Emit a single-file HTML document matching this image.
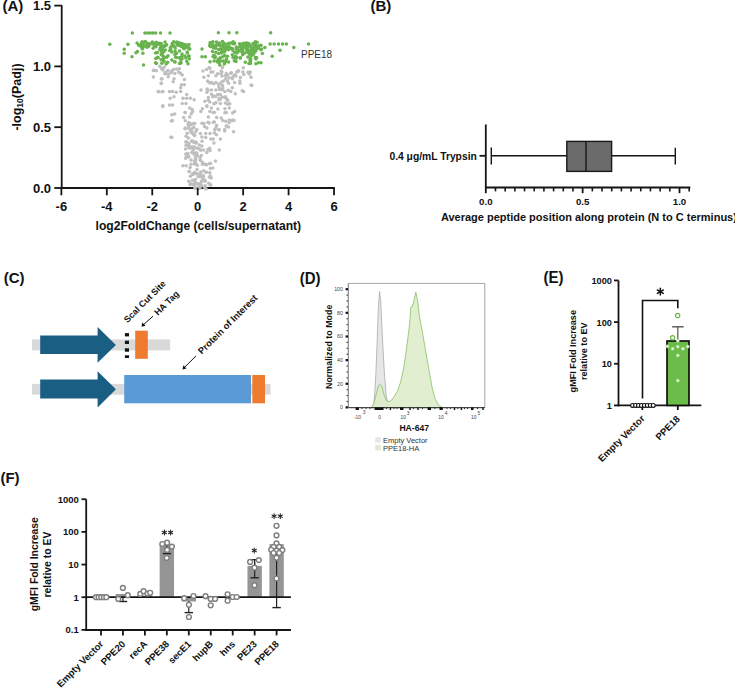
<!DOCTYPE html>
<html><head><meta charset="utf-8"><style>
html,body{margin:0;padding:0;background:#fff;}
svg{display:block;font-family:"Liberation Sans",sans-serif;}
</style></head><body>
<svg width="735" height="689" viewBox="0 0 735 689">
<rect width="735" height="689" fill="#fff"/>
<text x="2.50" y="11.00" font-size="15" font-weight="bold" text-anchor="start" fill="#111" >(A)</text>
<line x1="61.70" y1="5.20" x2="61.70" y2="188.80" stroke="#151515" stroke-width="1.8" />
<line x1="60.80" y1="188.00" x2="334.80" y2="188.00" stroke="#151515" stroke-width="1.8" />
<circle cx="154.50" cy="70.20" r="1.75" fill="#bfbfbf" stroke="none" stroke-width="0" />
<circle cx="159.70" cy="66.30" r="1.75" fill="#bfbfbf" stroke="none" stroke-width="0" />
<circle cx="164.20" cy="67.20" r="1.75" fill="#bfbfbf" stroke="none" stroke-width="0" />
<circle cx="168.00" cy="70.50" r="1.75" fill="#bfbfbf" stroke="none" stroke-width="0" />
<circle cx="171.00" cy="72.70" r="1.75" fill="#bfbfbf" stroke="none" stroke-width="0" />
<circle cx="174.70" cy="73.50" r="1.75" fill="#bfbfbf" stroke="none" stroke-width="0" />
<circle cx="178.40" cy="72.00" r="1.75" fill="#bfbfbf" stroke="none" stroke-width="0" />
<circle cx="182.20" cy="75.00" r="1.75" fill="#bfbfbf" stroke="none" stroke-width="0" />
<circle cx="174.00" cy="78.70" r="1.75" fill="#bfbfbf" stroke="none" stroke-width="0" />
<circle cx="173.20" cy="81.70" r="1.75" fill="#bfbfbf" stroke="none" stroke-width="0" />
<circle cx="162.00" cy="78.70" r="1.75" fill="#bfbfbf" stroke="none" stroke-width="0" />
<circle cx="161.20" cy="83.20" r="1.75" fill="#bfbfbf" stroke="none" stroke-width="0" />
<circle cx="184.40" cy="79.50" r="1.75" fill="#bfbfbf" stroke="none" stroke-width="0" />
<circle cx="181.40" cy="84.70" r="1.75" fill="#bfbfbf" stroke="none" stroke-width="0" />
<circle cx="184.40" cy="84.70" r="1.75" fill="#bfbfbf" stroke="none" stroke-width="0" />
<circle cx="180.70" cy="87.70" r="1.75" fill="#bfbfbf" stroke="none" stroke-width="0" />
<circle cx="158.20" cy="91.70" r="1.75" fill="#bfbfbf" stroke="none" stroke-width="0" />
<circle cx="162.00" cy="91.70" r="1.75" fill="#bfbfbf" stroke="none" stroke-width="0" />
<circle cx="169.50" cy="91.40" r="1.75" fill="#bfbfbf" stroke="none" stroke-width="0" />
<circle cx="172.50" cy="91.40" r="1.75" fill="#bfbfbf" stroke="none" stroke-width="0" />
<circle cx="176.20" cy="92.20" r="1.75" fill="#bfbfbf" stroke="none" stroke-width="0" />
<circle cx="180.70" cy="91.40" r="1.75" fill="#bfbfbf" stroke="none" stroke-width="0" />
<circle cx="186.70" cy="94.40" r="1.75" fill="#bfbfbf" stroke="none" stroke-width="0" />
<circle cx="170.20" cy="98.20" r="1.75" fill="#bfbfbf" stroke="none" stroke-width="0" />
<circle cx="174.00" cy="96.70" r="1.75" fill="#bfbfbf" stroke="none" stroke-width="0" />
<circle cx="183.00" cy="98.20" r="1.75" fill="#bfbfbf" stroke="none" stroke-width="0" />
<circle cx="186.70" cy="98.20" r="1.75" fill="#bfbfbf" stroke="none" stroke-width="0" />
<circle cx="190.40" cy="98.20" r="1.75" fill="#bfbfbf" stroke="none" stroke-width="0" />
<circle cx="194.20" cy="99.70" r="1.75" fill="#bfbfbf" stroke="none" stroke-width="0" />
<circle cx="162.70" cy="106.40" r="1.75" fill="#bfbfbf" stroke="none" stroke-width="0" />
<circle cx="169.50" cy="104.90" r="1.75" fill="#bfbfbf" stroke="none" stroke-width="0" />
<circle cx="172.50" cy="104.90" r="1.75" fill="#bfbfbf" stroke="none" stroke-width="0" />
<circle cx="182.20" cy="103.40" r="1.75" fill="#bfbfbf" stroke="none" stroke-width="0" />
<circle cx="186.00" cy="103.40" r="1.75" fill="#bfbfbf" stroke="none" stroke-width="0" />
<circle cx="189.70" cy="107.90" r="1.75" fill="#bfbfbf" stroke="none" stroke-width="0" />
<circle cx="185.20" cy="112.40" r="1.75" fill="#bfbfbf" stroke="none" stroke-width="0" />
<circle cx="192.70" cy="111.60" r="1.75" fill="#bfbfbf" stroke="none" stroke-width="0" />
<circle cx="174.70" cy="113.90" r="1.75" fill="#bfbfbf" stroke="none" stroke-width="0" />
<circle cx="172.50" cy="120.60" r="1.75" fill="#bfbfbf" stroke="none" stroke-width="0" />
<circle cx="183.70" cy="117.60" r="1.75" fill="#bfbfbf" stroke="none" stroke-width="0" />
<circle cx="189.70" cy="116.90" r="1.75" fill="#bfbfbf" stroke="none" stroke-width="0" />
<circle cx="185.20" cy="128.10" r="1.75" fill="#bfbfbf" stroke="none" stroke-width="0" />
<circle cx="191.20" cy="124.40" r="1.75" fill="#bfbfbf" stroke="none" stroke-width="0" />
<circle cx="203.90" cy="77.20" r="1.75" fill="#bfbfbf" stroke="none" stroke-width="0" />
<circle cx="208.40" cy="75.70" r="1.75" fill="#bfbfbf" stroke="none" stroke-width="0" />
<circle cx="212.90" cy="72.00" r="1.75" fill="#bfbfbf" stroke="none" stroke-width="0" />
<circle cx="215.90" cy="75.70" r="1.75" fill="#bfbfbf" stroke="none" stroke-width="0" />
<circle cx="221.90" cy="72.00" r="1.75" fill="#bfbfbf" stroke="none" stroke-width="0" />
<circle cx="226.30" cy="73.50" r="1.75" fill="#bfbfbf" stroke="none" stroke-width="0" />
<circle cx="233.80" cy="75.70" r="1.75" fill="#bfbfbf" stroke="none" stroke-width="0" />
<circle cx="236.80" cy="72.00" r="1.75" fill="#bfbfbf" stroke="none" stroke-width="0" />
<circle cx="242.80" cy="72.00" r="1.75" fill="#bfbfbf" stroke="none" stroke-width="0" />
<circle cx="250.30" cy="72.00" r="1.75" fill="#bfbfbf" stroke="none" stroke-width="0" />
<circle cx="207.60" cy="81.00" r="1.75" fill="#bfbfbf" stroke="none" stroke-width="0" />
<circle cx="211.40" cy="82.50" r="1.75" fill="#bfbfbf" stroke="none" stroke-width="0" />
<circle cx="215.90" cy="82.50" r="1.75" fill="#bfbfbf" stroke="none" stroke-width="0" />
<circle cx="223.40" cy="81.00" r="1.75" fill="#bfbfbf" stroke="none" stroke-width="0" />
<circle cx="228.60" cy="83.20" r="1.75" fill="#bfbfbf" stroke="none" stroke-width="0" />
<circle cx="234.60" cy="82.50" r="1.75" fill="#bfbfbf" stroke="none" stroke-width="0" />
<circle cx="239.80" cy="81.00" r="1.75" fill="#bfbfbf" stroke="none" stroke-width="0" />
<circle cx="218.90" cy="87.00" r="1.75" fill="#bfbfbf" stroke="none" stroke-width="0" />
<circle cx="222.60" cy="85.40" r="1.75" fill="#bfbfbf" stroke="none" stroke-width="0" />
<circle cx="232.30" cy="87.70" r="1.75" fill="#bfbfbf" stroke="none" stroke-width="0" />
<circle cx="251.80" cy="85.40" r="1.75" fill="#bfbfbf" stroke="none" stroke-width="0" />
<circle cx="206.90" cy="92.20" r="1.75" fill="#bfbfbf" stroke="none" stroke-width="0" />
<circle cx="211.40" cy="90.00" r="1.75" fill="#bfbfbf" stroke="none" stroke-width="0" />
<circle cx="215.90" cy="90.00" r="1.75" fill="#bfbfbf" stroke="none" stroke-width="0" />
<circle cx="220.40" cy="94.40" r="1.75" fill="#bfbfbf" stroke="none" stroke-width="0" />
<circle cx="224.90" cy="91.40" r="1.75" fill="#bfbfbf" stroke="none" stroke-width="0" />
<circle cx="230.80" cy="91.40" r="1.75" fill="#bfbfbf" stroke="none" stroke-width="0" />
<circle cx="235.30" cy="93.70" r="1.75" fill="#bfbfbf" stroke="none" stroke-width="0" />
<circle cx="243.60" cy="91.40" r="1.75" fill="#bfbfbf" stroke="none" stroke-width="0" />
<circle cx="208.40" cy="97.40" r="1.75" fill="#bfbfbf" stroke="none" stroke-width="0" />
<circle cx="212.90" cy="96.70" r="1.75" fill="#bfbfbf" stroke="none" stroke-width="0" />
<circle cx="218.90" cy="99.70" r="1.75" fill="#bfbfbf" stroke="none" stroke-width="0" />
<circle cx="224.90" cy="97.40" r="1.75" fill="#bfbfbf" stroke="none" stroke-width="0" />
<circle cx="227.80" cy="100.40" r="1.75" fill="#bfbfbf" stroke="none" stroke-width="0" />
<circle cx="209.90" cy="101.90" r="1.75" fill="#bfbfbf" stroke="none" stroke-width="0" />
<circle cx="214.40" cy="103.40" r="1.75" fill="#bfbfbf" stroke="none" stroke-width="0" />
<circle cx="220.40" cy="103.40" r="1.75" fill="#bfbfbf" stroke="none" stroke-width="0" />
<circle cx="227.80" cy="104.20" r="1.75" fill="#bfbfbf" stroke="none" stroke-width="0" />
<circle cx="202.40" cy="108.70" r="1.75" fill="#bfbfbf" stroke="none" stroke-width="0" />
<circle cx="206.90" cy="106.40" r="1.75" fill="#bfbfbf" stroke="none" stroke-width="0" />
<circle cx="211.40" cy="107.90" r="1.75" fill="#bfbfbf" stroke="none" stroke-width="0" />
<circle cx="224.90" cy="108.70" r="1.75" fill="#bfbfbf" stroke="none" stroke-width="0" />
<circle cx="229.30" cy="107.90" r="1.75" fill="#bfbfbf" stroke="none" stroke-width="0" />
<circle cx="200.90" cy="111.60" r="1.75" fill="#bfbfbf" stroke="none" stroke-width="0" />
<circle cx="209.90" cy="111.60" r="1.75" fill="#bfbfbf" stroke="none" stroke-width="0" />
<circle cx="214.40" cy="112.40" r="1.75" fill="#bfbfbf" stroke="none" stroke-width="0" />
<circle cx="226.30" cy="112.40" r="1.75" fill="#bfbfbf" stroke="none" stroke-width="0" />
<circle cx="234.60" cy="111.60" r="1.75" fill="#bfbfbf" stroke="none" stroke-width="0" />
<circle cx="208.40" cy="116.90" r="1.75" fill="#bfbfbf" stroke="none" stroke-width="0" />
<circle cx="216.60" cy="117.60" r="1.75" fill="#bfbfbf" stroke="none" stroke-width="0" />
<circle cx="229.30" cy="119.90" r="1.75" fill="#bfbfbf" stroke="none" stroke-width="0" />
<circle cx="233.10" cy="119.90" r="1.75" fill="#bfbfbf" stroke="none" stroke-width="0" />
<circle cx="203.90" cy="123.60" r="1.75" fill="#bfbfbf" stroke="none" stroke-width="0" />
<circle cx="209.10" cy="122.90" r="1.75" fill="#bfbfbf" stroke="none" stroke-width="0" />
<circle cx="214.40" cy="122.10" r="1.75" fill="#bfbfbf" stroke="none" stroke-width="0" />
<circle cx="226.30" cy="125.90" r="1.75" fill="#bfbfbf" stroke="none" stroke-width="0" />
<circle cx="206.90" cy="128.10" r="1.75" fill="#bfbfbf" stroke="none" stroke-width="0" />
<circle cx="215.90" cy="128.10" r="1.75" fill="#bfbfbf" stroke="none" stroke-width="0" />
<circle cx="171.40" cy="121.10" r="1.75" fill="#bfbfbf" stroke="none" stroke-width="0" />
<circle cx="185.00" cy="128.70" r="1.75" fill="#bfbfbf" stroke="none" stroke-width="0" />
<circle cx="170.90" cy="137.20" r="1.75" fill="#bfbfbf" stroke="none" stroke-width="0" />
<circle cx="186.10" cy="136.30" r="1.75" fill="#bfbfbf" stroke="none" stroke-width="0" />
<circle cx="186.70" cy="141.80" r="1.75" fill="#bfbfbf" stroke="none" stroke-width="0" />
<circle cx="188.30" cy="145.60" r="1.75" fill="#bfbfbf" stroke="none" stroke-width="0" />
<circle cx="195.90" cy="142.90" r="1.75" fill="#bfbfbf" stroke="none" stroke-width="0" />
<circle cx="199.20" cy="145.00" r="1.75" fill="#bfbfbf" stroke="none" stroke-width="0" />
<circle cx="201.90" cy="146.10" r="1.75" fill="#bfbfbf" stroke="none" stroke-width="0" />
<circle cx="197.00" cy="148.30" r="1.75" fill="#bfbfbf" stroke="none" stroke-width="0" />
<circle cx="195.40" cy="154.30" r="1.75" fill="#bfbfbf" stroke="none" stroke-width="0" />
<circle cx="188.80" cy="157.00" r="1.75" fill="#bfbfbf" stroke="none" stroke-width="0" />
<circle cx="201.30" cy="155.40" r="1.75" fill="#bfbfbf" stroke="none" stroke-width="0" />
<circle cx="203.50" cy="149.90" r="1.75" fill="#bfbfbf" stroke="none" stroke-width="0" />
<circle cx="207.90" cy="149.40" r="1.75" fill="#bfbfbf" stroke="none" stroke-width="0" />
<circle cx="210.00" cy="150.50" r="1.75" fill="#bfbfbf" stroke="none" stroke-width="0" />
<circle cx="206.80" cy="152.60" r="1.75" fill="#bfbfbf" stroke="none" stroke-width="0" />
<circle cx="219.30" cy="149.90" r="1.75" fill="#bfbfbf" stroke="none" stroke-width="0" />
<circle cx="182.90" cy="165.70" r="1.75" fill="#bfbfbf" stroke="none" stroke-width="0" />
<circle cx="186.10" cy="165.70" r="1.75" fill="#bfbfbf" stroke="none" stroke-width="0" />
<circle cx="194.30" cy="161.10" r="1.75" fill="#bfbfbf" stroke="none" stroke-width="0" />
<circle cx="200.30" cy="160.30" r="1.75" fill="#bfbfbf" stroke="none" stroke-width="0" />
<circle cx="202.40" cy="162.40" r="1.75" fill="#bfbfbf" stroke="none" stroke-width="0" />
<circle cx="215.50" cy="161.10" r="1.75" fill="#bfbfbf" stroke="none" stroke-width="0" />
<circle cx="209.50" cy="163.50" r="1.75" fill="#bfbfbf" stroke="none" stroke-width="0" />
<circle cx="212.80" cy="167.90" r="1.75" fill="#bfbfbf" stroke="none" stroke-width="0" />
<circle cx="201.90" cy="123.30" r="1.75" fill="#bfbfbf" stroke="none" stroke-width="0" />
<circle cx="204.60" cy="126.50" r="1.75" fill="#bfbfbf" stroke="none" stroke-width="0" />
<circle cx="207.90" cy="122.20" r="1.75" fill="#bfbfbf" stroke="none" stroke-width="0" />
<circle cx="213.30" cy="122.20" r="1.75" fill="#bfbfbf" stroke="none" stroke-width="0" />
<circle cx="216.60" cy="125.40" r="1.75" fill="#bfbfbf" stroke="none" stroke-width="0" />
<circle cx="218.80" cy="129.80" r="1.75" fill="#bfbfbf" stroke="none" stroke-width="0" />
<circle cx="214.40" cy="133.00" r="1.75" fill="#bfbfbf" stroke="none" stroke-width="0" />
<circle cx="210.00" cy="133.60" r="1.75" fill="#bfbfbf" stroke="none" stroke-width="0" />
<circle cx="205.70" cy="133.60" r="1.75" fill="#bfbfbf" stroke="none" stroke-width="0" />
<circle cx="200.30" cy="133.60" r="1.75" fill="#bfbfbf" stroke="none" stroke-width="0" />
<circle cx="201.90" cy="136.90" r="1.75" fill="#bfbfbf" stroke="none" stroke-width="0" />
<circle cx="205.70" cy="137.40" r="1.75" fill="#bfbfbf" stroke="none" stroke-width="0" />
<circle cx="213.30" cy="139.00" r="1.75" fill="#bfbfbf" stroke="none" stroke-width="0" />
<circle cx="220.40" cy="139.00" r="1.75" fill="#bfbfbf" stroke="none" stroke-width="0" />
<circle cx="213.90" cy="142.90" r="1.75" fill="#bfbfbf" stroke="none" stroke-width="0" />
<circle cx="224.70" cy="130.90" r="1.75" fill="#bfbfbf" stroke="none" stroke-width="0" />
<circle cx="226.40" cy="126.00" r="1.75" fill="#bfbfbf" stroke="none" stroke-width="0" />
<circle cx="229.10" cy="122.70" r="1.75" fill="#bfbfbf" stroke="none" stroke-width="0" />
<circle cx="234.00" cy="120.50" r="1.75" fill="#bfbfbf" stroke="none" stroke-width="0" />
<circle cx="161.40" cy="78.90" r="1.75" fill="#bfbfbf" stroke="none" stroke-width="0" />
<circle cx="161.40" cy="83.40" r="1.75" fill="#bfbfbf" stroke="none" stroke-width="0" />
<circle cx="158.40" cy="91.40" r="1.75" fill="#bfbfbf" stroke="none" stroke-width="0" />
<circle cx="162.90" cy="91.40" r="1.75" fill="#bfbfbf" stroke="none" stroke-width="0" />
<circle cx="162.90" cy="105.80" r="1.75" fill="#bfbfbf" stroke="none" stroke-width="0" />
<circle cx="171.80" cy="114.80" r="1.75" fill="#bfbfbf" stroke="none" stroke-width="0" />
<circle cx="251.00" cy="84.90" r="1.75" fill="#bfbfbf" stroke="none" stroke-width="0" />
<circle cx="242.20" cy="90.80" r="1.75" fill="#bfbfbf" stroke="none" stroke-width="0" />
<circle cx="231.70" cy="120.80" r="1.75" fill="#bfbfbf" stroke="none" stroke-width="0" />
<circle cx="171.80" cy="137.20" r="1.75" fill="#bfbfbf" stroke="none" stroke-width="0" />
<circle cx="193.83" cy="127.48" r="1.75" fill="#bfbfbf" stroke="none" stroke-width="0" />
<circle cx="193.53" cy="123.64" r="1.75" fill="#bfbfbf" stroke="none" stroke-width="0" />
<circle cx="190.82" cy="130.91" r="1.75" fill="#bfbfbf" stroke="none" stroke-width="0" />
<circle cx="188.12" cy="124.61" r="1.75" fill="#bfbfbf" stroke="none" stroke-width="0" />
<circle cx="192.78" cy="133.85" r="1.75" fill="#bfbfbf" stroke="none" stroke-width="0" />
<circle cx="194.78" cy="123.50" r="1.75" fill="#bfbfbf" stroke="none" stroke-width="0" />
<circle cx="191.54" cy="131.86" r="1.75" fill="#bfbfbf" stroke="none" stroke-width="0" />
<circle cx="191.52" cy="130.91" r="1.75" fill="#bfbfbf" stroke="none" stroke-width="0" />
<circle cx="189.32" cy="122.92" r="1.75" fill="#bfbfbf" stroke="none" stroke-width="0" />
<circle cx="188.74" cy="122.49" r="1.75" fill="#bfbfbf" stroke="none" stroke-width="0" />
<circle cx="191.86" cy="128.69" r="1.75" fill="#bfbfbf" stroke="none" stroke-width="0" />
<circle cx="191.98" cy="123.91" r="1.75" fill="#bfbfbf" stroke="none" stroke-width="0" />
<circle cx="189.29" cy="124.65" r="1.75" fill="#bfbfbf" stroke="none" stroke-width="0" />
<circle cx="193.88" cy="134.87" r="1.75" fill="#bfbfbf" stroke="none" stroke-width="0" />
<circle cx="196.27" cy="142.43" r="1.75" fill="#bfbfbf" stroke="none" stroke-width="0" />
<circle cx="187.62" cy="155.27" r="1.75" fill="#bfbfbf" stroke="none" stroke-width="0" />
<circle cx="191.62" cy="152.47" r="1.75" fill="#bfbfbf" stroke="none" stroke-width="0" />
<circle cx="190.27" cy="148.00" r="1.75" fill="#bfbfbf" stroke="none" stroke-width="0" />
<circle cx="192.15" cy="147.45" r="1.75" fill="#bfbfbf" stroke="none" stroke-width="0" />
<circle cx="193.01" cy="141.20" r="1.75" fill="#bfbfbf" stroke="none" stroke-width="0" />
<circle cx="194.01" cy="153.66" r="1.75" fill="#bfbfbf" stroke="none" stroke-width="0" />
<circle cx="188.81" cy="147.81" r="1.75" fill="#bfbfbf" stroke="none" stroke-width="0" />
<circle cx="194.39" cy="147.08" r="1.75" fill="#bfbfbf" stroke="none" stroke-width="0" />
<circle cx="188.95" cy="143.48" r="1.75" fill="#bfbfbf" stroke="none" stroke-width="0" />
<circle cx="192.13" cy="141.23" r="1.75" fill="#bfbfbf" stroke="none" stroke-width="0" />
<circle cx="195.93" cy="153.03" r="1.75" fill="#bfbfbf" stroke="none" stroke-width="0" />
<circle cx="194.05" cy="153.91" r="1.75" fill="#bfbfbf" stroke="none" stroke-width="0" />
<circle cx="193.29" cy="147.07" r="1.75" fill="#bfbfbf" stroke="none" stroke-width="0" />
<circle cx="193.00" cy="148.56" r="1.75" fill="#bfbfbf" stroke="none" stroke-width="0" />
<circle cx="196.83" cy="153.07" r="1.75" fill="#bfbfbf" stroke="none" stroke-width="0" />
<circle cx="194.68" cy="183.96" r="1.75" fill="#bfbfbf" stroke="none" stroke-width="0" />
<circle cx="205.38" cy="180.89" r="1.75" fill="#bfbfbf" stroke="none" stroke-width="0" />
<circle cx="206.92" cy="172.33" r="1.75" fill="#bfbfbf" stroke="none" stroke-width="0" />
<circle cx="208.72" cy="183.24" r="1.75" fill="#bfbfbf" stroke="none" stroke-width="0" />
<circle cx="204.29" cy="180.65" r="1.75" fill="#bfbfbf" stroke="none" stroke-width="0" />
<circle cx="205.84" cy="172.33" r="1.75" fill="#bfbfbf" stroke="none" stroke-width="0" />
<circle cx="204.90" cy="164.62" r="1.75" fill="#bfbfbf" stroke="none" stroke-width="0" />
<circle cx="196.52" cy="173.78" r="1.75" fill="#bfbfbf" stroke="none" stroke-width="0" />
<circle cx="189.23" cy="171.18" r="1.75" fill="#bfbfbf" stroke="none" stroke-width="0" />
<circle cx="203.05" cy="177.35" r="1.75" fill="#bfbfbf" stroke="none" stroke-width="0" />
<circle cx="194.11" cy="184.73" r="1.75" fill="#bfbfbf" stroke="none" stroke-width="0" />
<circle cx="203.65" cy="170.77" r="1.75" fill="#bfbfbf" stroke="none" stroke-width="0" />
<circle cx="203.51" cy="176.10" r="1.75" fill="#bfbfbf" stroke="none" stroke-width="0" />
<circle cx="200.73" cy="171.96" r="1.75" fill="#bfbfbf" stroke="none" stroke-width="0" />
<circle cx="211.00" cy="177.77" r="1.75" fill="#bfbfbf" stroke="none" stroke-width="0" />
<circle cx="204.43" cy="180.52" r="1.75" fill="#bfbfbf" stroke="none" stroke-width="0" />
<circle cx="210.56" cy="163.52" r="1.75" fill="#bfbfbf" stroke="none" stroke-width="0" />
<circle cx="202.54" cy="179.99" r="1.75" fill="#bfbfbf" stroke="none" stroke-width="0" />
<circle cx="194.65" cy="172.24" r="1.75" fill="#bfbfbf" stroke="none" stroke-width="0" />
<circle cx="190.11" cy="167.50" r="1.75" fill="#bfbfbf" stroke="none" stroke-width="0" />
<circle cx="197.26" cy="165.26" r="1.75" fill="#bfbfbf" stroke="none" stroke-width="0" />
<circle cx="194.52" cy="183.83" r="1.75" fill="#bfbfbf" stroke="none" stroke-width="0" />
<circle cx="201.10" cy="174.68" r="1.75" fill="#bfbfbf" stroke="none" stroke-width="0" />
<circle cx="210.28" cy="176.06" r="1.75" fill="#bfbfbf" stroke="none" stroke-width="0" />
<circle cx="210.89" cy="177.67" r="1.75" fill="#bfbfbf" stroke="none" stroke-width="0" />
<circle cx="206.81" cy="164.75" r="1.75" fill="#bfbfbf" stroke="none" stroke-width="0" />
<circle cx="202.15" cy="180.46" r="1.75" fill="#bfbfbf" stroke="none" stroke-width="0" />
<circle cx="189.99" cy="184.39" r="1.75" fill="#bfbfbf" stroke="none" stroke-width="0" />
<circle cx="192.52" cy="173.85" r="1.75" fill="#bfbfbf" stroke="none" stroke-width="0" />
<circle cx="192.72" cy="174.40" r="1.75" fill="#bfbfbf" stroke="none" stroke-width="0" />
<circle cx="202.45" cy="164.35" r="1.75" fill="#bfbfbf" stroke="none" stroke-width="0" />
<circle cx="209.80" cy="172.68" r="1.75" fill="#bfbfbf" stroke="none" stroke-width="0" />
<circle cx="200.59" cy="176.75" r="1.75" fill="#bfbfbf" stroke="none" stroke-width="0" />
<circle cx="197.04" cy="169.57" r="1.75" fill="#bfbfbf" stroke="none" stroke-width="0" />
<circle cx="203.41" cy="175.89" r="1.75" fill="#bfbfbf" stroke="none" stroke-width="0" />
<circle cx="195.24" cy="179.48" r="1.75" fill="#bfbfbf" stroke="none" stroke-width="0" />
<circle cx="195.51" cy="163.32" r="1.75" fill="#bfbfbf" stroke="none" stroke-width="0" />
<circle cx="194.39" cy="163.98" r="1.75" fill="#bfbfbf" stroke="none" stroke-width="0" />
<circle cx="192.44" cy="180.36" r="1.75" fill="#bfbfbf" stroke="none" stroke-width="0" />
<circle cx="197.58" cy="183.64" r="1.75" fill="#bfbfbf" stroke="none" stroke-width="0" />
<circle cx="205.46" cy="164.15" r="1.75" fill="#bfbfbf" stroke="none" stroke-width="0" />
<circle cx="210.75" cy="184.72" r="1.75" fill="#bfbfbf" stroke="none" stroke-width="0" />
<circle cx="190.62" cy="183.83" r="1.75" fill="#bfbfbf" stroke="none" stroke-width="0" />
<circle cx="198.45" cy="173.98" r="1.75" fill="#bfbfbf" stroke="none" stroke-width="0" />
<circle cx="210.41" cy="168.61" r="1.75" fill="#bfbfbf" stroke="none" stroke-width="0" />
<circle cx="199.76" cy="188.62" r="1.75" fill="#bfbfbf" stroke="none" stroke-width="0" />
<circle cx="201.95" cy="185.81" r="1.75" fill="#bfbfbf" stroke="none" stroke-width="0" />
<circle cx="204.77" cy="187.90" r="1.75" fill="#bfbfbf" stroke="none" stroke-width="0" />
<circle cx="200.64" cy="183.69" r="1.75" fill="#bfbfbf" stroke="none" stroke-width="0" />
<circle cx="200.87" cy="185.73" r="1.75" fill="#bfbfbf" stroke="none" stroke-width="0" />
<circle cx="196.24" cy="183.31" r="1.75" fill="#bfbfbf" stroke="none" stroke-width="0" />
<circle cx="199.81" cy="183.75" r="1.75" fill="#bfbfbf" stroke="none" stroke-width="0" />
<circle cx="198.87" cy="187.01" r="1.75" fill="#bfbfbf" stroke="none" stroke-width="0" />
<circle cx="220.94" cy="73.67" r="1.75" fill="#bfbfbf" stroke="none" stroke-width="0" />
<circle cx="225.38" cy="75.87" r="1.75" fill="#bfbfbf" stroke="none" stroke-width="0" />
<circle cx="232.23" cy="77.43" r="1.75" fill="#bfbfbf" stroke="none" stroke-width="0" />
<circle cx="239.92" cy="83.34" r="1.75" fill="#bfbfbf" stroke="none" stroke-width="0" />
<circle cx="230.70" cy="73.34" r="1.75" fill="#bfbfbf" stroke="none" stroke-width="0" />
<circle cx="208.99" cy="82.50" r="1.75" fill="#bfbfbf" stroke="none" stroke-width="0" />
<circle cx="232.45" cy="78.75" r="1.75" fill="#bfbfbf" stroke="none" stroke-width="0" />
<circle cx="217.57" cy="73.80" r="1.75" fill="#bfbfbf" stroke="none" stroke-width="0" />
<circle cx="228.98" cy="77.91" r="1.75" fill="#bfbfbf" stroke="none" stroke-width="0" />
<circle cx="225.71" cy="78.86" r="1.75" fill="#bfbfbf" stroke="none" stroke-width="0" />
<circle cx="231.37" cy="72.66" r="1.75" fill="#bfbfbf" stroke="none" stroke-width="0" />
<circle cx="213.71" cy="83.72" r="1.75" fill="#bfbfbf" stroke="none" stroke-width="0" />
<circle cx="229.81" cy="103.82" r="1.75" fill="#bfbfbf" stroke="none" stroke-width="0" />
<circle cx="207.03" cy="89.09" r="1.75" fill="#bfbfbf" stroke="none" stroke-width="0" />
<circle cx="213.04" cy="95.65" r="1.75" fill="#bfbfbf" stroke="none" stroke-width="0" />
<circle cx="222.21" cy="89.84" r="1.75" fill="#bfbfbf" stroke="none" stroke-width="0" />
<circle cx="220.08" cy="89.30" r="1.75" fill="#bfbfbf" stroke="none" stroke-width="0" />
<circle cx="208.25" cy="100.17" r="1.75" fill="#bfbfbf" stroke="none" stroke-width="0" />
<circle cx="220.32" cy="99.36" r="1.75" fill="#bfbfbf" stroke="none" stroke-width="0" />
<circle cx="215.70" cy="96.61" r="1.75" fill="#bfbfbf" stroke="none" stroke-width="0" />
<circle cx="211.48" cy="94.19" r="1.75" fill="#bfbfbf" stroke="none" stroke-width="0" />
<circle cx="225.37" cy="103.09" r="1.75" fill="#bfbfbf" stroke="none" stroke-width="0" />
<circle cx="207.93" cy="90.16" r="1.75" fill="#bfbfbf" stroke="none" stroke-width="0" />
<circle cx="227.04" cy="99.23" r="1.75" fill="#bfbfbf" stroke="none" stroke-width="0" />
<circle cx="168.42" cy="74.01" r="1.75" fill="#bfbfbf" stroke="none" stroke-width="0" />
<circle cx="164.87" cy="73.71" r="1.75" fill="#bfbfbf" stroke="none" stroke-width="0" />
<circle cx="156.49" cy="70.64" r="1.75" fill="#bfbfbf" stroke="none" stroke-width="0" />
<circle cx="168.24" cy="76.65" r="1.75" fill="#bfbfbf" stroke="none" stroke-width="0" />
<circle cx="180.38" cy="73.37" r="1.75" fill="#bfbfbf" stroke="none" stroke-width="0" />
<circle cx="153.41" cy="70.46" r="1.75" fill="#bfbfbf" stroke="none" stroke-width="0" />
<circle cx="176.43" cy="68.99" r="1.75" fill="#bfbfbf" stroke="none" stroke-width="0" />
<circle cx="171.62" cy="71.31" r="1.75" fill="#bfbfbf" stroke="none" stroke-width="0" />
<circle cx="153.35" cy="76.91" r="1.75" fill="#bfbfbf" stroke="none" stroke-width="0" />
<circle cx="179.38" cy="68.67" r="1.75" fill="#bfbfbf" stroke="none" stroke-width="0" />
<circle cx="173.33" cy="69.55" r="1.75" fill="#bfbfbf" stroke="none" stroke-width="0" />
<circle cx="165.41" cy="72.17" r="1.75" fill="#bfbfbf" stroke="none" stroke-width="0" />
<circle cx="162.84" cy="70.04" r="1.75" fill="#bfbfbf" stroke="none" stroke-width="0" />
<circle cx="165.94" cy="73.50" r="1.75" fill="#bfbfbf" stroke="none" stroke-width="0" />
<circle cx="161.46" cy="68.60" r="1.75" fill="#bfbfbf" stroke="none" stroke-width="0" />
<circle cx="238.57" cy="70.95" r="1.75" fill="#bfbfbf" stroke="none" stroke-width="0" />
<circle cx="249.25" cy="74.10" r="1.75" fill="#bfbfbf" stroke="none" stroke-width="0" />
<circle cx="238.19" cy="70.98" r="1.75" fill="#bfbfbf" stroke="none" stroke-width="0" />
<circle cx="243.34" cy="67.75" r="1.75" fill="#bfbfbf" stroke="none" stroke-width="0" />
<circle cx="209.04" cy="67.77" r="1.75" fill="#bfbfbf" stroke="none" stroke-width="0" />
<circle cx="235.88" cy="76.06" r="1.75" fill="#bfbfbf" stroke="none" stroke-width="0" />
<circle cx="210.99" cy="71.93" r="1.75" fill="#bfbfbf" stroke="none" stroke-width="0" />
<circle cx="243.85" cy="74.50" r="1.75" fill="#bfbfbf" stroke="none" stroke-width="0" />
<circle cx="206.51" cy="69.56" r="1.75" fill="#bfbfbf" stroke="none" stroke-width="0" />
<circle cx="209.85" cy="68.18" r="1.75" fill="#bfbfbf" stroke="none" stroke-width="0" />
<circle cx="222.34" cy="67.48" r="1.75" fill="#bfbfbf" stroke="none" stroke-width="0" />
<circle cx="248.03" cy="72.26" r="1.75" fill="#bfbfbf" stroke="none" stroke-width="0" />
<circle cx="227.58" cy="75.24" r="1.75" fill="#bfbfbf" stroke="none" stroke-width="0" />
<circle cx="240.34" cy="77.58" r="1.75" fill="#bfbfbf" stroke="none" stroke-width="0" />
<circle cx="221.30" cy="70.97" r="1.75" fill="#bfbfbf" stroke="none" stroke-width="0" />
<circle cx="222.61" cy="66.71" r="1.75" fill="#bfbfbf" stroke="none" stroke-width="0" />
<circle cx="222.04" cy="75.95" r="1.75" fill="#bfbfbf" stroke="none" stroke-width="0" />
<circle cx="251.10" cy="77.16" r="1.75" fill="#bfbfbf" stroke="none" stroke-width="0" />
<circle cx="235.01" cy="74.72" r="1.75" fill="#bfbfbf" stroke="none" stroke-width="0" />
<circle cx="202.93" cy="70.97" r="1.75" fill="#bfbfbf" stroke="none" stroke-width="0" />
<circle cx="188.45" cy="138.00" r="1.75" fill="#bfbfbf" stroke="none" stroke-width="0" />
<circle cx="185.38" cy="120.79" r="1.75" fill="#bfbfbf" stroke="none" stroke-width="0" />
<circle cx="190.62" cy="146.68" r="1.75" fill="#bfbfbf" stroke="none" stroke-width="0" />
<circle cx="194.73" cy="135.52" r="1.75" fill="#bfbfbf" stroke="none" stroke-width="0" />
<circle cx="186.06" cy="145.29" r="1.75" fill="#bfbfbf" stroke="none" stroke-width="0" />
<circle cx="195.74" cy="131.54" r="1.75" fill="#bfbfbf" stroke="none" stroke-width="0" />
<circle cx="188.58" cy="128.53" r="1.75" fill="#bfbfbf" stroke="none" stroke-width="0" />
<circle cx="185.84" cy="141.95" r="1.75" fill="#bfbfbf" stroke="none" stroke-width="0" />
<circle cx="196.83" cy="129.51" r="1.75" fill="#bfbfbf" stroke="none" stroke-width="0" />
<circle cx="193.30" cy="149.64" r="1.75" fill="#bfbfbf" stroke="none" stroke-width="0" />
<circle cx="186.56" cy="156.53" r="1.75" fill="#bfbfbf" stroke="none" stroke-width="0" />
<circle cx="192.15" cy="109.47" r="1.75" fill="#bfbfbf" stroke="none" stroke-width="0" />
<circle cx="185.08" cy="112.41" r="1.75" fill="#bfbfbf" stroke="none" stroke-width="0" />
<circle cx="191.49" cy="140.92" r="1.75" fill="#bfbfbf" stroke="none" stroke-width="0" />
<circle cx="188.28" cy="155.53" r="1.75" fill="#bfbfbf" stroke="none" stroke-width="0" />
<circle cx="188.70" cy="126.17" r="1.75" fill="#bfbfbf" stroke="none" stroke-width="0" />
<circle cx="185.61" cy="158.34" r="1.75" fill="#bfbfbf" stroke="none" stroke-width="0" />
<circle cx="185.76" cy="153.96" r="1.75" fill="#bfbfbf" stroke="none" stroke-width="0" />
<circle cx="191.06" cy="132.33" r="1.75" fill="#bfbfbf" stroke="none" stroke-width="0" />
<circle cx="191.28" cy="113.66" r="1.75" fill="#bfbfbf" stroke="none" stroke-width="0" />
<circle cx="195.82" cy="159.50" r="1.75" fill="#bfbfbf" stroke="none" stroke-width="0" />
<circle cx="194.63" cy="134.89" r="1.75" fill="#bfbfbf" stroke="none" stroke-width="0" />
<circle cx="185.59" cy="148.95" r="1.75" fill="#bfbfbf" stroke="none" stroke-width="0" />
<circle cx="187.75" cy="153.51" r="1.75" fill="#bfbfbf" stroke="none" stroke-width="0" />
<circle cx="187.13" cy="133.14" r="1.75" fill="#bfbfbf" stroke="none" stroke-width="0" />
<circle cx="228.25" cy="90.21" r="1.75" fill="#bfbfbf" stroke="none" stroke-width="0" />
<circle cx="218.63" cy="84.19" r="1.75" fill="#bfbfbf" stroke="none" stroke-width="0" />
<circle cx="201.09" cy="89.90" r="1.75" fill="#bfbfbf" stroke="none" stroke-width="0" />
<circle cx="233.56" cy="131.67" r="1.75" fill="#bfbfbf" stroke="none" stroke-width="0" />
<circle cx="222.38" cy="96.92" r="1.75" fill="#bfbfbf" stroke="none" stroke-width="0" />
<circle cx="222.82" cy="120.57" r="1.75" fill="#bfbfbf" stroke="none" stroke-width="0" />
<circle cx="212.98" cy="112.55" r="1.75" fill="#bfbfbf" stroke="none" stroke-width="0" />
<circle cx="227.33" cy="80.90" r="1.75" fill="#bfbfbf" stroke="none" stroke-width="0" />
<circle cx="206.78" cy="105.74" r="1.75" fill="#bfbfbf" stroke="none" stroke-width="0" />
<circle cx="204.86" cy="101.25" r="1.75" fill="#bfbfbf" stroke="none" stroke-width="0" />
<circle cx="219.36" cy="89.55" r="1.75" fill="#bfbfbf" stroke="none" stroke-width="0" />
<circle cx="217.67" cy="94.50" r="1.75" fill="#bfbfbf" stroke="none" stroke-width="0" />
<circle cx="219.31" cy="98.27" r="1.75" fill="#bfbfbf" stroke="none" stroke-width="0" />
<circle cx="221.82" cy="82.08" r="1.75" fill="#bfbfbf" stroke="none" stroke-width="0" />
<circle cx="222.81" cy="87.96" r="1.75" fill="#bfbfbf" stroke="none" stroke-width="0" />
<circle cx="232.62" cy="113.01" r="1.75" fill="#bfbfbf" stroke="none" stroke-width="0" />
<circle cx="215.98" cy="102.63" r="1.75" fill="#bfbfbf" stroke="none" stroke-width="0" />
<circle cx="221.21" cy="117.91" r="1.75" fill="#bfbfbf" stroke="none" stroke-width="0" />
<circle cx="225.77" cy="121.34" r="1.75" fill="#bfbfbf" stroke="none" stroke-width="0" />
<circle cx="216.52" cy="134.70" r="1.75" fill="#bfbfbf" stroke="none" stroke-width="0" />
<circle cx="228.50" cy="127.03" r="1.75" fill="#bfbfbf" stroke="none" stroke-width="0" />
<circle cx="213.91" cy="103.87" r="1.75" fill="#bfbfbf" stroke="none" stroke-width="0" />
<circle cx="219.24" cy="129.79" r="1.75" fill="#bfbfbf" stroke="none" stroke-width="0" />
<circle cx="217.88" cy="108.88" r="1.75" fill="#bfbfbf" stroke="none" stroke-width="0" />
<circle cx="214.70" cy="129.74" r="1.75" fill="#bfbfbf" stroke="none" stroke-width="0" />
<circle cx="210.90" cy="83.01" r="1.75" fill="#bfbfbf" stroke="none" stroke-width="0" />
<circle cx="224.67" cy="129.51" r="1.75" fill="#bfbfbf" stroke="none" stroke-width="0" />
<circle cx="224.89" cy="112.86" r="1.75" fill="#bfbfbf" stroke="none" stroke-width="0" />
<circle cx="225.56" cy="96.76" r="1.75" fill="#bfbfbf" stroke="none" stroke-width="0" />
<circle cx="220.18" cy="83.84" r="1.75" fill="#bfbfbf" stroke="none" stroke-width="0" />
<circle cx="190.99" cy="160.01" r="1.75" fill="#bfbfbf" stroke="none" stroke-width="0" />
<circle cx="200.06" cy="157.65" r="1.75" fill="#bfbfbf" stroke="none" stroke-width="0" />
<circle cx="189.25" cy="171.66" r="1.75" fill="#bfbfbf" stroke="none" stroke-width="0" />
<circle cx="200.63" cy="150.24" r="1.75" fill="#bfbfbf" stroke="none" stroke-width="0" />
<circle cx="195.35" cy="157.59" r="1.75" fill="#bfbfbf" stroke="none" stroke-width="0" />
<circle cx="193.66" cy="142.22" r="1.75" fill="#bfbfbf" stroke="none" stroke-width="0" />
<circle cx="209.87" cy="184.42" r="1.75" fill="#bfbfbf" stroke="none" stroke-width="0" />
<circle cx="203.98" cy="179.73" r="1.75" fill="#bfbfbf" stroke="none" stroke-width="0" />
<circle cx="198.11" cy="176.85" r="1.75" fill="#bfbfbf" stroke="none" stroke-width="0" />
<circle cx="193.32" cy="174.09" r="1.75" fill="#bfbfbf" stroke="none" stroke-width="0" />
<circle cx="201.60" cy="181.46" r="1.75" fill="#bfbfbf" stroke="none" stroke-width="0" />
<circle cx="190.37" cy="176.24" r="1.75" fill="#bfbfbf" stroke="none" stroke-width="0" />
<circle cx="190.97" cy="164.27" r="1.75" fill="#bfbfbf" stroke="none" stroke-width="0" />
<circle cx="210.82" cy="139.03" r="1.75" fill="#bfbfbf" stroke="none" stroke-width="0" />
<circle cx="193.85" cy="153.07" r="1.75" fill="#bfbfbf" stroke="none" stroke-width="0" />
<circle cx="195.79" cy="141.94" r="1.75" fill="#bfbfbf" stroke="none" stroke-width="0" />
<circle cx="209.48" cy="177.33" r="1.75" fill="#bfbfbf" stroke="none" stroke-width="0" />
<circle cx="197.53" cy="155.76" r="1.75" fill="#bfbfbf" stroke="none" stroke-width="0" />
<circle cx="202.05" cy="141.16" r="1.75" fill="#bfbfbf" stroke="none" stroke-width="0" />
<circle cx="188.75" cy="181.23" r="1.75" fill="#bfbfbf" stroke="none" stroke-width="0" />
<circle cx="195.39" cy="162.43" r="1.75" fill="#bfbfbf" stroke="none" stroke-width="0" />
<circle cx="210.41" cy="184.93" r="1.75" fill="#bfbfbf" stroke="none" stroke-width="0" />
<circle cx="199.34" cy="148.71" r="1.75" fill="#bfbfbf" stroke="none" stroke-width="0" />
<circle cx="195.09" cy="182.36" r="1.75" fill="#bfbfbf" stroke="none" stroke-width="0" />
<circle cx="209.52" cy="148.19" r="1.75" fill="#bfbfbf" stroke="none" stroke-width="0" />
<circle cx="205.41" cy="185.77" r="1.75" fill="#bfbfbf" stroke="none" stroke-width="0" />
<circle cx="199.56" cy="184.86" r="1.75" fill="#bfbfbf" stroke="none" stroke-width="0" />
<circle cx="206.08" cy="188.98" r="1.75" fill="#bfbfbf" stroke="none" stroke-width="0" />
<circle cx="195.23" cy="187.16" r="1.75" fill="#bfbfbf" stroke="none" stroke-width="0" />
<circle cx="195.06" cy="188.40" r="1.75" fill="#bfbfbf" stroke="none" stroke-width="0" />
<circle cx="192.80" cy="184.53" r="1.75" fill="#bfbfbf" stroke="none" stroke-width="0" />
<circle cx="132.40" cy="32.90" r="1.75" fill="#69b34f" stroke="none" stroke-width="0" />
<circle cx="144.90" cy="32.90" r="1.75" fill="#69b34f" stroke="none" stroke-width="0" />
<circle cx="147.60" cy="32.90" r="1.75" fill="#69b34f" stroke="none" stroke-width="0" />
<circle cx="150.30" cy="32.90" r="1.75" fill="#69b34f" stroke="none" stroke-width="0" />
<circle cx="153.00" cy="32.90" r="1.75" fill="#69b34f" stroke="none" stroke-width="0" />
<circle cx="155.70" cy="32.90" r="1.75" fill="#69b34f" stroke="none" stroke-width="0" />
<circle cx="160.50" cy="32.90" r="1.75" fill="#69b34f" stroke="none" stroke-width="0" />
<circle cx="170.00" cy="32.90" r="1.75" fill="#69b34f" stroke="none" stroke-width="0" />
<circle cx="218.40" cy="32.70" r="1.75" fill="#69b34f" stroke="none" stroke-width="0" />
<circle cx="229.00" cy="32.70" r="1.75" fill="#69b34f" stroke="none" stroke-width="0" />
<circle cx="236.80" cy="32.70" r="1.75" fill="#69b34f" stroke="none" stroke-width="0" />
<circle cx="270.60" cy="32.70" r="1.75" fill="#69b34f" stroke="none" stroke-width="0" />
<circle cx="109.80" cy="44.20" r="1.75" fill="#69b34f" stroke="none" stroke-width="0" />
<circle cx="127.90" cy="44.20" r="1.75" fill="#69b34f" stroke="none" stroke-width="0" />
<circle cx="124.20" cy="49.30" r="1.75" fill="#69b34f" stroke="none" stroke-width="0" />
<circle cx="124.20" cy="53.30" r="1.75" fill="#69b34f" stroke="none" stroke-width="0" />
<circle cx="132.00" cy="56.70" r="1.75" fill="#69b34f" stroke="none" stroke-width="0" />
<circle cx="136.00" cy="52.70" r="1.75" fill="#69b34f" stroke="none" stroke-width="0" />
<circle cx="137.40" cy="51.60" r="1.75" fill="#69b34f" stroke="none" stroke-width="0" />
<circle cx="142.90" cy="53.30" r="1.75" fill="#69b34f" stroke="none" stroke-width="0" />
<circle cx="143.50" cy="64.90" r="1.75" fill="#69b34f" stroke="none" stroke-width="0" />
<circle cx="270.10" cy="43.90" r="1.75" fill="#69b34f" stroke="none" stroke-width="0" />
<circle cx="274.20" cy="43.90" r="1.75" fill="#69b34f" stroke="none" stroke-width="0" />
<circle cx="278.50" cy="43.90" r="1.75" fill="#69b34f" stroke="none" stroke-width="0" />
<circle cx="282.60" cy="43.90" r="1.75" fill="#69b34f" stroke="none" stroke-width="0" />
<circle cx="286.40" cy="43.90" r="1.75" fill="#69b34f" stroke="none" stroke-width="0" />
<circle cx="308.50" cy="44.00" r="1.75" fill="#69b34f" stroke="none" stroke-width="0" />
<circle cx="293.80" cy="47.60" r="1.75" fill="#69b34f" stroke="none" stroke-width="0" />
<circle cx="280.00" cy="50.20" r="1.75" fill="#69b34f" stroke="none" stroke-width="0" />
<circle cx="264.90" cy="47.40" r="1.75" fill="#69b34f" stroke="none" stroke-width="0" />
<circle cx="262.40" cy="53.50" r="1.75" fill="#69b34f" stroke="none" stroke-width="0" />
<circle cx="272.20" cy="56.20" r="1.75" fill="#69b34f" stroke="none" stroke-width="0" />
<circle cx="258.40" cy="62.80" r="1.75" fill="#69b34f" stroke="none" stroke-width="0" />
<circle cx="261.00" cy="62.80" r="1.75" fill="#69b34f" stroke="none" stroke-width="0" />
<circle cx="202.00" cy="49.00" r="1.75" fill="#69b34f" stroke="none" stroke-width="0" />
<circle cx="202.00" cy="56.70" r="1.75" fill="#69b34f" stroke="none" stroke-width="0" />
<circle cx="205.30" cy="56.70" r="1.75" fill="#69b34f" stroke="none" stroke-width="0" />
<circle cx="188.00" cy="63.80" r="1.75" fill="#69b34f" stroke="none" stroke-width="0" />
<circle cx="160.98" cy="45.70" r="1.75" fill="#69b34f" stroke="none" stroke-width="0" />
<circle cx="185.98" cy="44.99" r="1.75" fill="#69b34f" stroke="none" stroke-width="0" />
<circle cx="163.92" cy="45.91" r="1.75" fill="#69b34f" stroke="none" stroke-width="0" />
<circle cx="146.79" cy="45.34" r="1.75" fill="#69b34f" stroke="none" stroke-width="0" />
<circle cx="170.38" cy="47.45" r="1.75" fill="#69b34f" stroke="none" stroke-width="0" />
<circle cx="141.99" cy="43.78" r="1.75" fill="#69b34f" stroke="none" stroke-width="0" />
<circle cx="141.81" cy="47.57" r="1.75" fill="#69b34f" stroke="none" stroke-width="0" />
<circle cx="173.75" cy="41.81" r="1.75" fill="#69b34f" stroke="none" stroke-width="0" />
<circle cx="189.06" cy="48.74" r="1.75" fill="#69b34f" stroke="none" stroke-width="0" />
<circle cx="171.66" cy="46.12" r="1.75" fill="#69b34f" stroke="none" stroke-width="0" />
<circle cx="145.35" cy="41.61" r="1.75" fill="#69b34f" stroke="none" stroke-width="0" />
<circle cx="165.00" cy="41.95" r="1.75" fill="#69b34f" stroke="none" stroke-width="0" />
<circle cx="147.08" cy="43.31" r="1.75" fill="#69b34f" stroke="none" stroke-width="0" />
<circle cx="138.59" cy="44.98" r="1.75" fill="#69b34f" stroke="none" stroke-width="0" />
<circle cx="160.35" cy="47.82" r="1.75" fill="#69b34f" stroke="none" stroke-width="0" />
<circle cx="164.51" cy="46.30" r="1.75" fill="#69b34f" stroke="none" stroke-width="0" />
<circle cx="163.49" cy="46.47" r="1.75" fill="#69b34f" stroke="none" stroke-width="0" />
<circle cx="161.24" cy="43.59" r="1.75" fill="#69b34f" stroke="none" stroke-width="0" />
<circle cx="189.88" cy="48.97" r="1.75" fill="#69b34f" stroke="none" stroke-width="0" />
<circle cx="181.53" cy="46.81" r="1.75" fill="#69b34f" stroke="none" stroke-width="0" />
<circle cx="153.71" cy="43.22" r="1.75" fill="#69b34f" stroke="none" stroke-width="0" />
<circle cx="152.32" cy="42.03" r="1.75" fill="#69b34f" stroke="none" stroke-width="0" />
<circle cx="177.61" cy="44.50" r="1.75" fill="#69b34f" stroke="none" stroke-width="0" />
<circle cx="181.87" cy="44.40" r="1.75" fill="#69b34f" stroke="none" stroke-width="0" />
<circle cx="187.78" cy="47.85" r="1.75" fill="#69b34f" stroke="none" stroke-width="0" />
<circle cx="137.03" cy="43.07" r="1.75" fill="#69b34f" stroke="none" stroke-width="0" />
<circle cx="185.24" cy="45.02" r="1.75" fill="#69b34f" stroke="none" stroke-width="0" />
<circle cx="188.96" cy="44.48" r="1.75" fill="#69b34f" stroke="none" stroke-width="0" />
<circle cx="140.87" cy="46.22" r="1.75" fill="#69b34f" stroke="none" stroke-width="0" />
<circle cx="178.26" cy="43.52" r="1.75" fill="#69b34f" stroke="none" stroke-width="0" />
<circle cx="141.62" cy="43.99" r="1.75" fill="#69b34f" stroke="none" stroke-width="0" />
<circle cx="188.10" cy="47.19" r="1.75" fill="#69b34f" stroke="none" stroke-width="0" />
<circle cx="143.25" cy="43.35" r="1.75" fill="#69b34f" stroke="none" stroke-width="0" />
<circle cx="142.36" cy="41.95" r="1.75" fill="#69b34f" stroke="none" stroke-width="0" />
<circle cx="179.24" cy="42.83" r="1.75" fill="#69b34f" stroke="none" stroke-width="0" />
<circle cx="166.64" cy="44.86" r="1.75" fill="#69b34f" stroke="none" stroke-width="0" />
<circle cx="147.11" cy="46.99" r="1.75" fill="#69b34f" stroke="none" stroke-width="0" />
<circle cx="143.94" cy="46.33" r="1.75" fill="#69b34f" stroke="none" stroke-width="0" />
<circle cx="143.17" cy="44.66" r="1.75" fill="#69b34f" stroke="none" stroke-width="0" />
<circle cx="148.28" cy="43.52" r="1.75" fill="#69b34f" stroke="none" stroke-width="0" />
<circle cx="188.46" cy="47.53" r="1.75" fill="#69b34f" stroke="none" stroke-width="0" />
<circle cx="153.12" cy="48.14" r="1.75" fill="#69b34f" stroke="none" stroke-width="0" />
<circle cx="148.17" cy="44.46" r="1.75" fill="#69b34f" stroke="none" stroke-width="0" />
<circle cx="182.28" cy="46.31" r="1.75" fill="#69b34f" stroke="none" stroke-width="0" />
<circle cx="142.32" cy="48.92" r="1.75" fill="#69b34f" stroke="none" stroke-width="0" />
<circle cx="162.46" cy="52.87" r="1.75" fill="#69b34f" stroke="none" stroke-width="0" />
<circle cx="182.04" cy="53.93" r="1.75" fill="#69b34f" stroke="none" stroke-width="0" />
<circle cx="165.37" cy="50.10" r="1.75" fill="#69b34f" stroke="none" stroke-width="0" />
<circle cx="158.15" cy="57.74" r="1.75" fill="#69b34f" stroke="none" stroke-width="0" />
<circle cx="163.51" cy="58.02" r="1.75" fill="#69b34f" stroke="none" stroke-width="0" />
<circle cx="168.01" cy="55.80" r="1.75" fill="#69b34f" stroke="none" stroke-width="0" />
<circle cx="188.57" cy="56.26" r="1.75" fill="#69b34f" stroke="none" stroke-width="0" />
<circle cx="175.11" cy="62.00" r="1.75" fill="#69b34f" stroke="none" stroke-width="0" />
<circle cx="161.40" cy="51.31" r="1.75" fill="#69b34f" stroke="none" stroke-width="0" />
<circle cx="186.79" cy="61.27" r="1.75" fill="#69b34f" stroke="none" stroke-width="0" />
<circle cx="163.73" cy="51.85" r="1.75" fill="#69b34f" stroke="none" stroke-width="0" />
<circle cx="180.88" cy="63.11" r="1.75" fill="#69b34f" stroke="none" stroke-width="0" />
<circle cx="161.88" cy="63.25" r="1.75" fill="#69b34f" stroke="none" stroke-width="0" />
<circle cx="185.88" cy="58.05" r="1.75" fill="#69b34f" stroke="none" stroke-width="0" />
<circle cx="169.75" cy="50.56" r="1.75" fill="#69b34f" stroke="none" stroke-width="0" />
<circle cx="156.35" cy="63.44" r="1.75" fill="#69b34f" stroke="none" stroke-width="0" />
<circle cx="163.34" cy="59.57" r="1.75" fill="#69b34f" stroke="none" stroke-width="0" />
<circle cx="163.99" cy="61.36" r="1.75" fill="#69b34f" stroke="none" stroke-width="0" />
<circle cx="175.88" cy="53.40" r="1.75" fill="#69b34f" stroke="none" stroke-width="0" />
<circle cx="161.14" cy="59.81" r="1.75" fill="#69b34f" stroke="none" stroke-width="0" />
<circle cx="157.41" cy="52.43" r="1.75" fill="#69b34f" stroke="none" stroke-width="0" />
<circle cx="174.58" cy="61.79" r="1.75" fill="#69b34f" stroke="none" stroke-width="0" />
<circle cx="176.50" cy="53.20" r="1.75" fill="#69b34f" stroke="none" stroke-width="0" />
<circle cx="187.11" cy="52.06" r="1.75" fill="#69b34f" stroke="none" stroke-width="0" />
<circle cx="155.58" cy="53.04" r="1.75" fill="#69b34f" stroke="none" stroke-width="0" />
<circle cx="170.60" cy="49.91" r="1.75" fill="#69b34f" stroke="none" stroke-width="0" />
<circle cx="161.17" cy="54.53" r="1.75" fill="#69b34f" stroke="none" stroke-width="0" />
<circle cx="175.03" cy="50.97" r="1.75" fill="#69b34f" stroke="none" stroke-width="0" />
<circle cx="167.68" cy="62.36" r="1.75" fill="#69b34f" stroke="none" stroke-width="0" />
<circle cx="189.32" cy="58.85" r="1.75" fill="#69b34f" stroke="none" stroke-width="0" />
<circle cx="179.19" cy="57.77" r="1.75" fill="#69b34f" stroke="none" stroke-width="0" />
<circle cx="159.91" cy="49.53" r="1.75" fill="#69b34f" stroke="none" stroke-width="0" />
<circle cx="155.63" cy="62.65" r="1.75" fill="#69b34f" stroke="none" stroke-width="0" />
<circle cx="179.53" cy="63.44" r="1.75" fill="#69b34f" stroke="none" stroke-width="0" />
<circle cx="155.74" cy="58.54" r="1.75" fill="#69b34f" stroke="none" stroke-width="0" />
<circle cx="171.88" cy="59.96" r="1.75" fill="#69b34f" stroke="none" stroke-width="0" />
<circle cx="166.16" cy="63.99" r="1.75" fill="#69b34f" stroke="none" stroke-width="0" />
<circle cx="157.63" cy="57.19" r="1.75" fill="#69b34f" stroke="none" stroke-width="0" />
<circle cx="180.80" cy="62.50" r="1.75" fill="#69b34f" stroke="none" stroke-width="0" />
<circle cx="180.80" cy="59.56" r="1.75" fill="#69b34f" stroke="none" stroke-width="0" />
<circle cx="251.04" cy="49.28" r="1.75" fill="#69b34f" stroke="none" stroke-width="0" />
<circle cx="227.65" cy="47.32" r="1.75" fill="#69b34f" stroke="none" stroke-width="0" />
<circle cx="256.74" cy="48.90" r="1.75" fill="#69b34f" stroke="none" stroke-width="0" />
<circle cx="231.11" cy="48.22" r="1.75" fill="#69b34f" stroke="none" stroke-width="0" />
<circle cx="254.76" cy="46.37" r="1.75" fill="#69b34f" stroke="none" stroke-width="0" />
<circle cx="242.12" cy="44.75" r="1.75" fill="#69b34f" stroke="none" stroke-width="0" />
<circle cx="239.88" cy="46.68" r="1.75" fill="#69b34f" stroke="none" stroke-width="0" />
<circle cx="213.25" cy="46.93" r="1.75" fill="#69b34f" stroke="none" stroke-width="0" />
<circle cx="261.65" cy="48.98" r="1.75" fill="#69b34f" stroke="none" stroke-width="0" />
<circle cx="247.59" cy="44.80" r="1.75" fill="#69b34f" stroke="none" stroke-width="0" />
<circle cx="247.96" cy="46.44" r="1.75" fill="#69b34f" stroke="none" stroke-width="0" />
<circle cx="232.35" cy="48.63" r="1.75" fill="#69b34f" stroke="none" stroke-width="0" />
<circle cx="213.44" cy="47.88" r="1.75" fill="#69b34f" stroke="none" stroke-width="0" />
<circle cx="210.58" cy="46.61" r="1.75" fill="#69b34f" stroke="none" stroke-width="0" />
<circle cx="234.49" cy="43.46" r="1.75" fill="#69b34f" stroke="none" stroke-width="0" />
<circle cx="246.01" cy="45.73" r="1.75" fill="#69b34f" stroke="none" stroke-width="0" />
<circle cx="241.57" cy="49.32" r="1.75" fill="#69b34f" stroke="none" stroke-width="0" />
<circle cx="222.56" cy="41.60" r="1.75" fill="#69b34f" stroke="none" stroke-width="0" />
<circle cx="224.95" cy="47.26" r="1.75" fill="#69b34f" stroke="none" stroke-width="0" />
<circle cx="219.74" cy="42.94" r="1.75" fill="#69b34f" stroke="none" stroke-width="0" />
<circle cx="257.00" cy="47.11" r="1.75" fill="#69b34f" stroke="none" stroke-width="0" />
<circle cx="232.42" cy="49.08" r="1.75" fill="#69b34f" stroke="none" stroke-width="0" />
<circle cx="226.33" cy="47.16" r="1.75" fill="#69b34f" stroke="none" stroke-width="0" />
<circle cx="219.52" cy="45.16" r="1.75" fill="#69b34f" stroke="none" stroke-width="0" />
<circle cx="251.72" cy="49.27" r="1.75" fill="#69b34f" stroke="none" stroke-width="0" />
<circle cx="255.65" cy="44.77" r="1.75" fill="#69b34f" stroke="none" stroke-width="0" />
<circle cx="239.90" cy="44.19" r="1.75" fill="#69b34f" stroke="none" stroke-width="0" />
<circle cx="216.22" cy="45.72" r="1.75" fill="#69b34f" stroke="none" stroke-width="0" />
<circle cx="253.37" cy="48.71" r="1.75" fill="#69b34f" stroke="none" stroke-width="0" />
<circle cx="246.69" cy="49.58" r="1.75" fill="#69b34f" stroke="none" stroke-width="0" />
<circle cx="223.67" cy="42.94" r="1.75" fill="#69b34f" stroke="none" stroke-width="0" />
<circle cx="232.88" cy="43.84" r="1.75" fill="#69b34f" stroke="none" stroke-width="0" />
<circle cx="220.35" cy="45.02" r="1.75" fill="#69b34f" stroke="none" stroke-width="0" />
<circle cx="242.16" cy="45.70" r="1.75" fill="#69b34f" stroke="none" stroke-width="0" />
<circle cx="225.71" cy="48.63" r="1.75" fill="#69b34f" stroke="none" stroke-width="0" />
<circle cx="261.05" cy="45.35" r="1.75" fill="#69b34f" stroke="none" stroke-width="0" />
<circle cx="212.96" cy="41.77" r="1.75" fill="#69b34f" stroke="none" stroke-width="0" />
<circle cx="255.26" cy="41.85" r="1.75" fill="#69b34f" stroke="none" stroke-width="0" />
<circle cx="246.56" cy="46.35" r="1.75" fill="#69b34f" stroke="none" stroke-width="0" />
<circle cx="225.38" cy="48.23" r="1.75" fill="#69b34f" stroke="none" stroke-width="0" />
<circle cx="210.01" cy="42.65" r="1.75" fill="#69b34f" stroke="none" stroke-width="0" />
<circle cx="233.11" cy="41.71" r="1.75" fill="#69b34f" stroke="none" stroke-width="0" />
<circle cx="252.97" cy="43.52" r="1.75" fill="#69b34f" stroke="none" stroke-width="0" />
<circle cx="216.47" cy="41.90" r="1.75" fill="#69b34f" stroke="none" stroke-width="0" />
<circle cx="242.35" cy="45.30" r="1.75" fill="#69b34f" stroke="none" stroke-width="0" />
<circle cx="242.39" cy="47.07" r="1.75" fill="#69b34f" stroke="none" stroke-width="0" />
<circle cx="251.79" cy="49.65" r="1.75" fill="#69b34f" stroke="none" stroke-width="0" />
<circle cx="245.28" cy="43.19" r="1.75" fill="#69b34f" stroke="none" stroke-width="0" />
<circle cx="234.18" cy="43.02" r="1.75" fill="#69b34f" stroke="none" stroke-width="0" />
<circle cx="209.57" cy="45.51" r="1.75" fill="#69b34f" stroke="none" stroke-width="0" />
<circle cx="246.85" cy="43.02" r="1.75" fill="#69b34f" stroke="none" stroke-width="0" />
<circle cx="223.43" cy="44.44" r="1.75" fill="#69b34f" stroke="none" stroke-width="0" />
<circle cx="245.96" cy="45.92" r="1.75" fill="#69b34f" stroke="none" stroke-width="0" />
<circle cx="241.57" cy="47.93" r="1.75" fill="#69b34f" stroke="none" stroke-width="0" />
<circle cx="229.86" cy="48.23" r="1.75" fill="#69b34f" stroke="none" stroke-width="0" />
<circle cx="257.03" cy="42.24" r="1.75" fill="#69b34f" stroke="none" stroke-width="0" />
<circle cx="258.43" cy="47.64" r="1.75" fill="#69b34f" stroke="none" stroke-width="0" />
<circle cx="215.89" cy="45.36" r="1.75" fill="#69b34f" stroke="none" stroke-width="0" />
<circle cx="242.15" cy="49.23" r="1.75" fill="#69b34f" stroke="none" stroke-width="0" />
<circle cx="228.97" cy="46.33" r="1.75" fill="#69b34f" stroke="none" stroke-width="0" />
<circle cx="255.60" cy="48.27" r="1.75" fill="#69b34f" stroke="none" stroke-width="0" />
<circle cx="259.05" cy="45.44" r="1.75" fill="#69b34f" stroke="none" stroke-width="0" />
<circle cx="243.52" cy="43.24" r="1.75" fill="#69b34f" stroke="none" stroke-width="0" />
<circle cx="247.26" cy="48.46" r="1.75" fill="#69b34f" stroke="none" stroke-width="0" />
<circle cx="243.01" cy="47.60" r="1.75" fill="#69b34f" stroke="none" stroke-width="0" />
<circle cx="220.30" cy="49.15" r="1.75" fill="#69b34f" stroke="none" stroke-width="0" />
<circle cx="260.97" cy="49.81" r="1.75" fill="#69b34f" stroke="none" stroke-width="0" />
<circle cx="237.46" cy="48.22" r="1.75" fill="#69b34f" stroke="none" stroke-width="0" />
<circle cx="225.98" cy="49.23" r="1.75" fill="#69b34f" stroke="none" stroke-width="0" />
<circle cx="254.36" cy="44.46" r="1.75" fill="#69b34f" stroke="none" stroke-width="0" />
<circle cx="213.06" cy="56.61" r="1.75" fill="#69b34f" stroke="none" stroke-width="0" />
<circle cx="235.96" cy="61.52" r="1.75" fill="#69b34f" stroke="none" stroke-width="0" />
<circle cx="232.88" cy="50.43" r="1.75" fill="#69b34f" stroke="none" stroke-width="0" />
<circle cx="248.65" cy="50.96" r="1.75" fill="#69b34f" stroke="none" stroke-width="0" />
<circle cx="248.19" cy="52.59" r="1.75" fill="#69b34f" stroke="none" stroke-width="0" />
<circle cx="225.42" cy="61.82" r="1.75" fill="#69b34f" stroke="none" stroke-width="0" />
<circle cx="215.88" cy="52.23" r="1.75" fill="#69b34f" stroke="none" stroke-width="0" />
<circle cx="234.31" cy="60.85" r="1.75" fill="#69b34f" stroke="none" stroke-width="0" />
<circle cx="250.16" cy="60.34" r="1.75" fill="#69b34f" stroke="none" stroke-width="0" />
<circle cx="255.34" cy="57.39" r="1.75" fill="#69b34f" stroke="none" stroke-width="0" />
<circle cx="255.51" cy="51.29" r="1.75" fill="#69b34f" stroke="none" stroke-width="0" />
<circle cx="219.85" cy="57.90" r="1.75" fill="#69b34f" stroke="none" stroke-width="0" />
<circle cx="223.22" cy="60.93" r="1.75" fill="#69b34f" stroke="none" stroke-width="0" />
<circle cx="240.30" cy="57.84" r="1.75" fill="#69b34f" stroke="none" stroke-width="0" />
<circle cx="250.34" cy="58.40" r="1.75" fill="#69b34f" stroke="none" stroke-width="0" />
<circle cx="224.27" cy="55.72" r="1.75" fill="#69b34f" stroke="none" stroke-width="0" />
<circle cx="250.42" cy="63.51" r="1.75" fill="#69b34f" stroke="none" stroke-width="0" />
<circle cx="219.20" cy="62.76" r="1.75" fill="#69b34f" stroke="none" stroke-width="0" />
<circle cx="256.45" cy="57.86" r="1.75" fill="#69b34f" stroke="none" stroke-width="0" />
<circle cx="237.08" cy="53.01" r="1.75" fill="#69b34f" stroke="none" stroke-width="0" />
<circle cx="235.26" cy="57.55" r="1.75" fill="#69b34f" stroke="none" stroke-width="0" />
<circle cx="238.66" cy="50.42" r="1.75" fill="#69b34f" stroke="none" stroke-width="0" />
<circle cx="256.50" cy="57.74" r="1.75" fill="#69b34f" stroke="none" stroke-width="0" />
<circle cx="228.63" cy="62.02" r="1.75" fill="#69b34f" stroke="none" stroke-width="0" />
<circle cx="236.58" cy="57.37" r="1.75" fill="#69b34f" stroke="none" stroke-width="0" />
<circle cx="242.86" cy="50.99" r="1.75" fill="#69b34f" stroke="none" stroke-width="0" />
<circle cx="235.40" cy="56.21" r="1.75" fill="#69b34f" stroke="none" stroke-width="0" />
<circle cx="255.89" cy="63.85" r="1.75" fill="#69b34f" stroke="none" stroke-width="0" />
<circle cx="222.19" cy="57.10" r="1.75" fill="#69b34f" stroke="none" stroke-width="0" />
<circle cx="215.22" cy="56.51" r="1.75" fill="#69b34f" stroke="none" stroke-width="0" />
<circle cx="248.97" cy="63.51" r="1.75" fill="#69b34f" stroke="none" stroke-width="0" />
<circle cx="232.35" cy="54.76" r="1.75" fill="#69b34f" stroke="none" stroke-width="0" />
<circle cx="218.38" cy="59.27" r="1.75" fill="#69b34f" stroke="none" stroke-width="0" />
<circle cx="254.34" cy="51.94" r="1.75" fill="#69b34f" stroke="none" stroke-width="0" />
<circle cx="247.19" cy="50.34" r="1.75" fill="#69b34f" stroke="none" stroke-width="0" />
<circle cx="218.51" cy="53.41" r="1.75" fill="#69b34f" stroke="none" stroke-width="0" />
<circle cx="242.66" cy="54.83" r="1.75" fill="#69b34f" stroke="none" stroke-width="0" />
<circle cx="226.41" cy="59.30" r="1.75" fill="#69b34f" stroke="none" stroke-width="0" />
<circle cx="214.14" cy="60.96" r="1.75" fill="#69b34f" stroke="none" stroke-width="0" />
<circle cx="215.02" cy="57.66" r="1.75" fill="#69b34f" stroke="none" stroke-width="0" />
<circle cx="221.28" cy="52.97" r="1.75" fill="#69b34f" stroke="none" stroke-width="0" />
<circle cx="234.99" cy="56.55" r="1.75" fill="#69b34f" stroke="none" stroke-width="0" />
<circle cx="227.41" cy="56.20" r="1.75" fill="#69b34f" stroke="none" stroke-width="0" />
<circle cx="234.94" cy="52.40" r="1.75" fill="#69b34f" stroke="none" stroke-width="0" />
<circle cx="219.01" cy="59.47" r="1.75" fill="#69b34f" stroke="none" stroke-width="0" />
<circle cx="240.28" cy="57.94" r="1.75" fill="#69b34f" stroke="none" stroke-width="0" />
<circle cx="250.71" cy="59.18" r="1.75" fill="#69b34f" stroke="none" stroke-width="0" />
<circle cx="250.98" cy="53.49" r="1.75" fill="#69b34f" stroke="none" stroke-width="0" />
<circle cx="245.30" cy="62.16" r="1.75" fill="#69b34f" stroke="none" stroke-width="0" />
<circle cx="253.23" cy="54.74" r="1.75" fill="#69b34f" stroke="none" stroke-width="0" />
<circle cx="224.43" cy="63.84" r="1.75" fill="#69b34f" stroke="none" stroke-width="0" />
<circle cx="219.69" cy="64.98" r="1.75" fill="#69b34f" stroke="none" stroke-width="0" />
<circle cx="252.49" cy="52.01" r="1.75" fill="#69b34f" stroke="none" stroke-width="0" />
<circle cx="220.73" cy="60.90" r="1.75" fill="#69b34f" stroke="none" stroke-width="0" />
<circle cx="221.72" cy="51.46" r="1.75" fill="#69b34f" stroke="none" stroke-width="0" />
<circle cx="176.44" cy="43.01" r="1.75" fill="#69b34f" stroke="none" stroke-width="0" />
<circle cx="159.22" cy="43.33" r="1.75" fill="#69b34f" stroke="none" stroke-width="0" />
<circle cx="178.49" cy="44.12" r="1.75" fill="#69b34f" stroke="none" stroke-width="0" />
<circle cx="170.68" cy="48.52" r="1.75" fill="#69b34f" stroke="none" stroke-width="0" />
<circle cx="154.27" cy="45.40" r="1.75" fill="#69b34f" stroke="none" stroke-width="0" />
<circle cx="175.31" cy="48.04" r="1.75" fill="#69b34f" stroke="none" stroke-width="0" />
<circle cx="159.38" cy="44.12" r="1.75" fill="#69b34f" stroke="none" stroke-width="0" />
<circle cx="142.85" cy="47.71" r="1.75" fill="#69b34f" stroke="none" stroke-width="0" />
<circle cx="141.93" cy="42.09" r="1.75" fill="#69b34f" stroke="none" stroke-width="0" />
<circle cx="166.21" cy="44.94" r="1.75" fill="#69b34f" stroke="none" stroke-width="0" />
<circle cx="172.27" cy="43.62" r="1.75" fill="#69b34f" stroke="none" stroke-width="0" />
<circle cx="176.78" cy="42.04" r="1.75" fill="#69b34f" stroke="none" stroke-width="0" />
<circle cx="148.66" cy="46.20" r="1.75" fill="#69b34f" stroke="none" stroke-width="0" />
<circle cx="142.09" cy="43.66" r="1.75" fill="#69b34f" stroke="none" stroke-width="0" />
<circle cx="174.25" cy="46.43" r="1.75" fill="#69b34f" stroke="none" stroke-width="0" />
<circle cx="152.15" cy="42.51" r="1.75" fill="#69b34f" stroke="none" stroke-width="0" />
<circle cx="155.89" cy="46.65" r="1.75" fill="#69b34f" stroke="none" stroke-width="0" />
<circle cx="156.32" cy="42.33" r="1.75" fill="#69b34f" stroke="none" stroke-width="0" />
<circle cx="173.46" cy="45.54" r="1.75" fill="#69b34f" stroke="none" stroke-width="0" />
<circle cx="183.93" cy="48.17" r="1.75" fill="#69b34f" stroke="none" stroke-width="0" />
<circle cx="183.67" cy="44.61" r="1.75" fill="#69b34f" stroke="none" stroke-width="0" />
<circle cx="178.15" cy="43.66" r="1.75" fill="#69b34f" stroke="none" stroke-width="0" />
<circle cx="153.88" cy="44.34" r="1.75" fill="#69b34f" stroke="none" stroke-width="0" />
<circle cx="184.73" cy="47.85" r="1.75" fill="#69b34f" stroke="none" stroke-width="0" />
<circle cx="150.42" cy="44.07" r="1.75" fill="#69b34f" stroke="none" stroke-width="0" />
<circle cx="156.28" cy="44.08" r="1.75" fill="#69b34f" stroke="none" stroke-width="0" />
<circle cx="157.78" cy="44.25" r="1.75" fill="#69b34f" stroke="none" stroke-width="0" />
<circle cx="147.75" cy="45.50" r="1.75" fill="#69b34f" stroke="none" stroke-width="0" />
<circle cx="177.85" cy="45.34" r="1.75" fill="#69b34f" stroke="none" stroke-width="0" />
<circle cx="179.82" cy="45.50" r="1.75" fill="#69b34f" stroke="none" stroke-width="0" />
<circle cx="146.83" cy="46.89" r="1.75" fill="#69b34f" stroke="none" stroke-width="0" />
<circle cx="182.04" cy="43.50" r="1.75" fill="#69b34f" stroke="none" stroke-width="0" />
<circle cx="139.11" cy="45.16" r="1.75" fill="#69b34f" stroke="none" stroke-width="0" />
<circle cx="165.21" cy="45.53" r="1.75" fill="#69b34f" stroke="none" stroke-width="0" />
<circle cx="186.32" cy="46.12" r="1.75" fill="#69b34f" stroke="none" stroke-width="0" />
<circle cx="184.13" cy="48.77" r="1.75" fill="#69b34f" stroke="none" stroke-width="0" />
<circle cx="176.40" cy="57.46" r="1.75" fill="#69b34f" stroke="none" stroke-width="0" />
<circle cx="162.52" cy="48.98" r="1.75" fill="#69b34f" stroke="none" stroke-width="0" />
<circle cx="182.11" cy="58.79" r="1.75" fill="#69b34f" stroke="none" stroke-width="0" />
<circle cx="162.54" cy="55.61" r="1.75" fill="#69b34f" stroke="none" stroke-width="0" />
<circle cx="164.32" cy="56.95" r="1.75" fill="#69b34f" stroke="none" stroke-width="0" />
<circle cx="179.47" cy="50.95" r="1.75" fill="#69b34f" stroke="none" stroke-width="0" />
<circle cx="166.61" cy="57.18" r="1.75" fill="#69b34f" stroke="none" stroke-width="0" />
<circle cx="175.65" cy="57.18" r="1.75" fill="#69b34f" stroke="none" stroke-width="0" />
<circle cx="171.83" cy="52.05" r="1.75" fill="#69b34f" stroke="none" stroke-width="0" />
<circle cx="189.05" cy="56.07" r="1.75" fill="#69b34f" stroke="none" stroke-width="0" />
<circle cx="174.81" cy="54.45" r="1.75" fill="#69b34f" stroke="none" stroke-width="0" />
<circle cx="181.63" cy="56.50" r="1.75" fill="#69b34f" stroke="none" stroke-width="0" />
<circle cx="187.45" cy="52.93" r="1.75" fill="#69b34f" stroke="none" stroke-width="0" />
<circle cx="184.79" cy="56.00" r="1.75" fill="#69b34f" stroke="none" stroke-width="0" />
<circle cx="252.68" cy="49.96" r="1.75" fill="#69b34f" stroke="none" stroke-width="0" />
<circle cx="251.69" cy="50.83" r="1.75" fill="#69b34f" stroke="none" stroke-width="0" />
<circle cx="257.89" cy="48.22" r="1.75" fill="#69b34f" stroke="none" stroke-width="0" />
<circle cx="236.19" cy="48.96" r="1.75" fill="#69b34f" stroke="none" stroke-width="0" />
<circle cx="250.11" cy="45.93" r="1.75" fill="#69b34f" stroke="none" stroke-width="0" />
<circle cx="231.02" cy="43.03" r="1.75" fill="#69b34f" stroke="none" stroke-width="0" />
<circle cx="247.06" cy="51.91" r="1.75" fill="#69b34f" stroke="none" stroke-width="0" />
<circle cx="228.78" cy="43.26" r="1.75" fill="#69b34f" stroke="none" stroke-width="0" />
<circle cx="220.22" cy="45.96" r="1.75" fill="#69b34f" stroke="none" stroke-width="0" />
<circle cx="224.60" cy="51.68" r="1.75" fill="#69b34f" stroke="none" stroke-width="0" />
<circle cx="212.96" cy="44.74" r="1.75" fill="#69b34f" stroke="none" stroke-width="0" />
<circle cx="215.74" cy="48.30" r="1.75" fill="#69b34f" stroke="none" stroke-width="0" />
<circle cx="248.80" cy="43.38" r="1.75" fill="#69b34f" stroke="none" stroke-width="0" />
<circle cx="213.12" cy="46.32" r="1.75" fill="#69b34f" stroke="none" stroke-width="0" />
<circle cx="239.20" cy="51.05" r="1.75" fill="#69b34f" stroke="none" stroke-width="0" />
<circle cx="211.82" cy="42.64" r="1.75" fill="#69b34f" stroke="none" stroke-width="0" />
<circle cx="219.23" cy="43.78" r="1.75" fill="#69b34f" stroke="none" stroke-width="0" />
<circle cx="221.77" cy="49.03" r="1.75" fill="#69b34f" stroke="none" stroke-width="0" />
<circle cx="239.74" cy="43.85" r="1.75" fill="#69b34f" stroke="none" stroke-width="0" />
<circle cx="219.25" cy="44.45" r="1.75" fill="#69b34f" stroke="none" stroke-width="0" />
<circle cx="218.63" cy="49.45" r="1.75" fill="#69b34f" stroke="none" stroke-width="0" />
<circle cx="225.59" cy="47.26" r="1.75" fill="#69b34f" stroke="none" stroke-width="0" />
<circle cx="250.86" cy="46.53" r="1.75" fill="#69b34f" stroke="none" stroke-width="0" />
<circle cx="223.02" cy="50.82" r="1.75" fill="#69b34f" stroke="none" stroke-width="0" />
<circle cx="255.71" cy="45.09" r="1.75" fill="#69b34f" stroke="none" stroke-width="0" />
<circle cx="237.37" cy="51.55" r="1.75" fill="#69b34f" stroke="none" stroke-width="0" />
<circle cx="234.13" cy="43.82" r="1.75" fill="#69b34f" stroke="none" stroke-width="0" />
<circle cx="212.49" cy="51.45" r="1.75" fill="#69b34f" stroke="none" stroke-width="0" />
<circle cx="250.07" cy="45.54" r="1.75" fill="#69b34f" stroke="none" stroke-width="0" />
<circle cx="236.38" cy="46.92" r="1.75" fill="#69b34f" stroke="none" stroke-width="0" />
<circle cx="223.73" cy="51.90" r="1.75" fill="#69b34f" stroke="none" stroke-width="0" />
<circle cx="242.88" cy="43.99" r="1.75" fill="#69b34f" stroke="none" stroke-width="0" />
<circle cx="210.54" cy="46.46" r="1.75" fill="#69b34f" stroke="none" stroke-width="0" />
<circle cx="228.58" cy="49.87" r="1.75" fill="#69b34f" stroke="none" stroke-width="0" />
<circle cx="245.66" cy="47.86" r="1.75" fill="#69b34f" stroke="none" stroke-width="0" />
<circle cx="217.86" cy="43.15" r="1.75" fill="#69b34f" stroke="none" stroke-width="0" />
<circle cx="226.09" cy="44.22" r="1.75" fill="#69b34f" stroke="none" stroke-width="0" />
<circle cx="253.46" cy="46.92" r="1.75" fill="#69b34f" stroke="none" stroke-width="0" />
<circle cx="241.85" cy="51.93" r="1.75" fill="#69b34f" stroke="none" stroke-width="0" />
<circle cx="223.33" cy="47.11" r="1.75" fill="#69b34f" stroke="none" stroke-width="0" />
<circle cx="217.23" cy="61.24" r="1.75" fill="#69b34f" stroke="none" stroke-width="0" />
<circle cx="210.07" cy="61.86" r="1.75" fill="#69b34f" stroke="none" stroke-width="0" />
<circle cx="250.62" cy="61.87" r="1.75" fill="#69b34f" stroke="none" stroke-width="0" />
<circle cx="213.96" cy="55.24" r="1.75" fill="#69b34f" stroke="none" stroke-width="0" />
<circle cx="244.39" cy="53.17" r="1.75" fill="#69b34f" stroke="none" stroke-width="0" />
<circle cx="233.04" cy="57.62" r="1.75" fill="#69b34f" stroke="none" stroke-width="0" />
<circle cx="255.86" cy="59.04" r="1.75" fill="#69b34f" stroke="none" stroke-width="0" />
<circle cx="251.15" cy="55.64" r="1.75" fill="#69b34f" stroke="none" stroke-width="0" />
<circle cx="247.89" cy="57.00" r="1.75" fill="#69b34f" stroke="none" stroke-width="0" />
<circle cx="254.00" cy="53.09" r="1.75" fill="#69b34f" stroke="none" stroke-width="0" />
<circle cx="249.66" cy="54.50" r="1.75" fill="#69b34f" stroke="none" stroke-width="0" />
<circle cx="236.08" cy="58.31" r="1.75" fill="#69b34f" stroke="none" stroke-width="0" />
<circle cx="217.56" cy="61.98" r="1.75" fill="#69b34f" stroke="none" stroke-width="0" />
<circle cx="224.95" cy="55.73" r="1.75" fill="#69b34f" stroke="none" stroke-width="0" />
<circle cx="213.65" cy="55.67" r="1.75" fill="#69b34f" stroke="none" stroke-width="0" />
<line x1="54.30" y1="188.00" x2="61.70" y2="188.00" stroke="#151515" stroke-width="1.8" />
<text x="51.00" y="192.60" font-size="13" font-weight="bold" text-anchor="end" fill="#111" >0.0</text>
<line x1="54.30" y1="127.20" x2="61.70" y2="127.20" stroke="#151515" stroke-width="1.8" />
<text x="51.00" y="131.80" font-size="13" font-weight="bold" text-anchor="end" fill="#111" >0.5</text>
<line x1="54.30" y1="66.40" x2="61.70" y2="66.40" stroke="#151515" stroke-width="1.8" />
<text x="51.00" y="71.00" font-size="13" font-weight="bold" text-anchor="end" fill="#111" >1.0</text>
<line x1="54.30" y1="5.60" x2="61.70" y2="5.60" stroke="#151515" stroke-width="1.8" />
<text x="51.00" y="10.20" font-size="13" font-weight="bold" text-anchor="end" fill="#111" >1.5</text>
<line x1="61.38" y1="188.00" x2="61.38" y2="195.30" stroke="#151515" stroke-width="1.8" />
<text x="61.38" y="211.00" font-size="13" font-weight="bold" text-anchor="middle" fill="#111" >-6</text>
<line x1="106.82" y1="188.00" x2="106.82" y2="195.30" stroke="#151515" stroke-width="1.8" />
<text x="106.82" y="211.00" font-size="13" font-weight="bold" text-anchor="middle" fill="#111" >-4</text>
<line x1="152.26" y1="188.00" x2="152.26" y2="195.30" stroke="#151515" stroke-width="1.8" />
<text x="152.26" y="211.00" font-size="13" font-weight="bold" text-anchor="middle" fill="#111" >-2</text>
<line x1="197.70" y1="188.00" x2="197.70" y2="195.30" stroke="#151515" stroke-width="1.8" />
<text x="197.70" y="211.00" font-size="13" font-weight="bold" text-anchor="middle" fill="#111" >0</text>
<line x1="243.14" y1="188.00" x2="243.14" y2="195.30" stroke="#151515" stroke-width="1.8" />
<text x="243.14" y="211.00" font-size="13" font-weight="bold" text-anchor="middle" fill="#111" >2</text>
<line x1="288.58" y1="188.00" x2="288.58" y2="195.30" stroke="#151515" stroke-width="1.8" />
<text x="288.58" y="211.00" font-size="13" font-weight="bold" text-anchor="middle" fill="#111" >4</text>
<line x1="334.02" y1="188.00" x2="334.02" y2="195.30" stroke="#151515" stroke-width="1.8" />
<text x="334.02" y="211.00" font-size="13" font-weight="bold" text-anchor="middle" fill="#111" >6</text>
<text transform="translate(198.3,230) scale(0.89,1)" font-size="13.6" font-weight="bold" text-anchor="middle" fill="#111">log2FoldChange (cells/supernatant)</text>
<text transform="translate(20.6,97) rotate(-90)" font-size="12.5" font-weight="bold" text-anchor="middle" fill="#111">-log<tspan font-size="8.5" dy="2.5">10</tspan><tspan dy="-2.5">(Padj)</tspan></text>
<text x="301.00" y="57.90" font-size="10" font-weight="normal" text-anchor="start" fill="#333" >PPE18</text>
<text x="370.40" y="10.60" font-size="15" font-weight="bold" text-anchor="start" fill="#111" >(B)</text>
<line x1="485.80" y1="124.50" x2="485.80" y2="188.30" stroke="#151515" stroke-width="1.8" />
<line x1="485.00" y1="187.50" x2="690.30" y2="187.50" stroke="#151515" stroke-width="1.8" />
<line x1="485.80" y1="187.50" x2="485.80" y2="193.20" stroke="#151515" stroke-width="1.8" />
<line x1="495.49" y1="187.50" x2="495.49" y2="191.40" stroke="#151515" stroke-width="1.6" />
<line x1="505.17" y1="187.50" x2="505.17" y2="191.40" stroke="#151515" stroke-width="1.6" />
<line x1="514.86" y1="187.50" x2="514.86" y2="191.40" stroke="#151515" stroke-width="1.6" />
<line x1="524.54" y1="187.50" x2="524.54" y2="191.40" stroke="#151515" stroke-width="1.6" />
<line x1="534.23" y1="187.50" x2="534.23" y2="191.40" stroke="#151515" stroke-width="1.6" />
<line x1="543.91" y1="187.50" x2="543.91" y2="191.40" stroke="#151515" stroke-width="1.6" />
<line x1="553.60" y1="187.50" x2="553.60" y2="191.40" stroke="#151515" stroke-width="1.6" />
<line x1="563.28" y1="187.50" x2="563.28" y2="191.40" stroke="#151515" stroke-width="1.6" />
<line x1="572.97" y1="187.50" x2="572.97" y2="191.40" stroke="#151515" stroke-width="1.6" />
<line x1="582.65" y1="187.50" x2="582.65" y2="193.20" stroke="#151515" stroke-width="1.8" />
<line x1="592.34" y1="187.50" x2="592.34" y2="191.40" stroke="#151515" stroke-width="1.6" />
<line x1="602.02" y1="187.50" x2="602.02" y2="191.40" stroke="#151515" stroke-width="1.6" />
<line x1="611.71" y1="187.50" x2="611.71" y2="191.40" stroke="#151515" stroke-width="1.6" />
<line x1="621.39" y1="187.50" x2="621.39" y2="191.40" stroke="#151515" stroke-width="1.6" />
<line x1="631.08" y1="187.50" x2="631.08" y2="191.40" stroke="#151515" stroke-width="1.6" />
<line x1="640.76" y1="187.50" x2="640.76" y2="191.40" stroke="#151515" stroke-width="1.6" />
<line x1="650.45" y1="187.50" x2="650.45" y2="191.40" stroke="#151515" stroke-width="1.6" />
<line x1="660.13" y1="187.50" x2="660.13" y2="191.40" stroke="#151515" stroke-width="1.6" />
<line x1="669.82" y1="187.50" x2="669.82" y2="191.40" stroke="#151515" stroke-width="1.6" />
<line x1="679.50" y1="187.50" x2="679.50" y2="193.20" stroke="#151515" stroke-width="1.8" />
<line x1="689.18" y1="187.50" x2="689.18" y2="191.40" stroke="#151515" stroke-width="1.6" />
<text x="485.80" y="205.00" font-size="9.7" font-weight="bold" text-anchor="middle" fill="#111" >0.0</text>
<text x="582.65" y="205.00" font-size="9.7" font-weight="bold" text-anchor="middle" fill="#111" >0.5</text>
<text x="679.50" y="205.00" font-size="9.7" font-weight="bold" text-anchor="middle" fill="#111" >1.0</text>
<text x="440.90" y="220.60" font-size="11" font-weight="bold" text-anchor="start" fill="#111" >Average peptide position along protein (N to C terminus)</text>
<line x1="479.50" y1="155.80" x2="485.80" y2="155.80" stroke="#151515" stroke-width="1.8" />
<text x="476.80" y="159.80" font-size="10.3" font-weight="bold" text-anchor="end" fill="#111" >0.4 μg/mL Trypsin</text>
<line x1="491.61" y1="155.80" x2="566.80" y2="155.80" stroke="#151515" stroke-width="1.4" />
<line x1="611.60" y1="155.80" x2="675.30" y2="155.80" stroke="#151515" stroke-width="1.4" />
<line x1="491.30" y1="147.60" x2="491.30" y2="164.40" stroke="#151515" stroke-width="1.4" />
<line x1="675.30" y1="147.80" x2="675.30" y2="164.40" stroke="#151515" stroke-width="1.4" />
<rect x="566.8" y="141.4" width="44.8" height="30.0" fill="#6b6b6b" stroke="#1a1a1a" stroke-width="1.4"/>
<line x1="586.00" y1="141.40" x2="586.00" y2="171.40" stroke="#151515" stroke-width="1.4" />
<text x="3.70" y="283.00" font-size="15" font-weight="bold" text-anchor="start" fill="#111" >(C)</text>
<rect x="32.00" y="339.40" width="138.20" height="11.00" fill="#d9d9d9" />
<rect x="32.00" y="383.90" width="238.60" height="10.80" fill="#d9d9d9" />
<polygon points="40.2,335.5 97.6,335.5 97.6,327.0 115.9,344.9 97.6,362.7 97.6,353.9 40.2,353.9" fill="#1b5e83"/>
<polygon points="40.2,379.6 97.6,379.6 97.6,371.2 115.9,389.2 97.6,407.6 97.6,398.4 40.2,398.4" fill="#1b5e83"/>
<rect x="124.90" y="333.10" width="4.10" height="3.30" fill="#111" />
<rect x="124.90" y="340.70" width="4.10" height="3.30" fill="#111" />
<rect x="124.90" y="348.30" width="4.10" height="3.40" fill="#111" />
<rect x="124.90" y="355.30" width="4.10" height="2.70" fill="#111" />
<rect x="135.20" y="330.70" width="12.60" height="28.10" fill="#ee7b2f" />
<rect x="124.20" y="375.00" width="126.80" height="28.30" fill="#5b9bd5" />
<rect x="252.30" y="375.00" width="12.70" height="28.30" fill="#ee7b2f" />
<text transform="translate(127.5,323.2) rotate(-45)" font-size="9" font-weight="bold" fill="#111">Scal Cut Site</text>
<text transform="translate(158,316) rotate(-45)" font-size="9" font-weight="bold" fill="#111">HA Tag</text>
<text transform="translate(201.8,354.8) rotate(-45)" font-size="9.3" font-weight="bold" fill="#111">Protein of Interest</text>
<line x1="153" y1="316.2" x2="143" y2="325.2" stroke="#111" stroke-width="1"/>
<polygon points="141.5,326.7 142.3,322.6 145.5,325.8" fill="#111"/>
<line x1="196" y1="355.9" x2="184" y2="367.9" stroke="#111" stroke-width="1"/>
<polygon points="182.5,369.4 183.3,365.3 186.5,368.5" fill="#111"/>
<text x="299.80" y="283.60" font-size="15" font-weight="bold" text-anchor="start" fill="#111" transform="translate(0,-22.7) scale(1,1.08)">(D)</text>
<polygon points="373.4,407.7 374.6,395 375.8,375 377.2,340 378.5,305 379.6,291.5 380.8,302 382.3,335 384.2,370 386.2,395 388.6,407.7" fill="#e6e6e8" stroke="#a0a0a4" stroke-width="0.7"/>
<polygon points="371.4,407.7 374,403 376.5,393 378.5,386 379.9,384.2 381.8,386 384,394.5 386.2,400.2 388,401.7 391,400.8 394.5,396 397.5,391 400.5,382.5 403.5,369 405.5,356 408,337 409.8,322 410.8,307 412.2,306.5 413.2,304 415.8,292.2 417.5,300 419.5,317 422,330 425,347 429.3,372 432,387 435,398.5 438.5,405 442.5,407.7" fill="#dcebc8" fill-opacity="0.85" stroke="#84bb5e" stroke-width="0.75"/>
<line x1="348.30" y1="283.40" x2="484.80" y2="283.40" stroke="#8a8a8a" stroke-width="0.75" />
<line x1="484.80" y1="283.40" x2="484.80" y2="407.70" stroke="#8a8a8a" stroke-width="0.75" />
<line x1="348.30" y1="283.40" x2="348.30" y2="407.70" stroke="#555" stroke-width="0.8" />
<line x1="348.30" y1="407.70" x2="484.80" y2="407.70" stroke="#222" stroke-width="1.0" />
<rect x="345.60" y="406.30" width="2.40" height="2.20" fill="#111" />
<text x="343.00" y="409.30" font-size="5.3" font-weight="normal" text-anchor="end" fill="#444" >0</text>
<rect x="346.60" y="400.89" width="1.20" height="1.20" fill="#222" />
<rect x="346.60" y="394.98" width="1.20" height="1.20" fill="#222" />
<rect x="346.60" y="389.07" width="1.20" height="1.20" fill="#222" />
<rect x="345.60" y="382.66" width="2.40" height="2.20" fill="#111" />
<text x="343.00" y="385.66" font-size="5.3" font-weight="normal" text-anchor="end" fill="#444" >20</text>
<rect x="346.60" y="377.25" width="1.20" height="1.20" fill="#222" />
<rect x="346.60" y="371.34" width="1.20" height="1.20" fill="#222" />
<rect x="346.60" y="365.43" width="1.20" height="1.20" fill="#222" />
<rect x="345.60" y="359.02" width="2.40" height="2.20" fill="#111" />
<text x="343.00" y="362.02" font-size="5.3" font-weight="normal" text-anchor="end" fill="#444" >40</text>
<rect x="346.60" y="353.61" width="1.20" height="1.20" fill="#222" />
<rect x="346.60" y="347.70" width="1.20" height="1.20" fill="#222" />
<rect x="346.60" y="341.79" width="1.20" height="1.20" fill="#222" />
<rect x="345.60" y="335.38" width="2.40" height="2.20" fill="#111" />
<text x="343.00" y="338.38" font-size="5.3" font-weight="normal" text-anchor="end" fill="#444" >60</text>
<rect x="346.60" y="329.97" width="1.20" height="1.20" fill="#222" />
<rect x="346.60" y="324.06" width="1.20" height="1.20" fill="#222" />
<rect x="346.60" y="318.15" width="1.20" height="1.20" fill="#222" />
<rect x="345.60" y="311.74" width="2.40" height="2.20" fill="#111" />
<text x="343.00" y="314.74" font-size="5.3" font-weight="normal" text-anchor="end" fill="#444" >80</text>
<rect x="346.60" y="306.33" width="1.20" height="1.20" fill="#222" />
<rect x="346.60" y="300.42" width="1.20" height="1.20" fill="#222" />
<rect x="346.60" y="294.51" width="1.20" height="1.20" fill="#222" />
<rect x="345.60" y="288.10" width="2.40" height="2.20" fill="#111" />
<text x="343.00" y="291.10" font-size="5.3" font-weight="normal" text-anchor="end" fill="#444" >100</text>
<rect x="355.60" y="407.40" width="3.30" height="2.60" fill="#111" />
<rect x="374.60" y="407.40" width="8.90" height="2.60" fill="#111" />
<rect x="389.70" y="407.40" width="1.40" height="2.60" fill="#111" />
<rect x="400.00" y="407.40" width="3.40" height="2.60" fill="#111" />
<rect x="409.30" y="407.40" width="1.40" height="2.60" fill="#111" />
<rect x="417.30" y="407.40" width="1.40" height="2.60" fill="#111" />
<rect x="427.60" y="407.40" width="3.40" height="2.60" fill="#111" />
<rect x="439.50" y="407.40" width="3.30" height="2.60" fill="#111" />
<rect x="453.80" y="407.40" width="1.40" height="2.60" fill="#111" />
<rect x="460.70" y="407.40" width="1.40" height="2.60" fill="#111" />
<rect x="471.00" y="407.40" width="2.50" height="2.60" fill="#111" />
<rect x="482.30" y="407.40" width="1.40" height="2.60" fill="#111" />
<rect x="361.50" y="407.50" width="1.00" height="1.60" fill="#333" />
<rect x="365.50" y="407.50" width="1.00" height="1.60" fill="#333" />
<rect x="369.50" y="407.50" width="1.00" height="1.60" fill="#333" />
<rect x="386.00" y="407.50" width="1.00" height="1.60" fill="#333" />
<rect x="393.50" y="407.50" width="1.00" height="1.60" fill="#333" />
<rect x="396.50" y="407.50" width="1.00" height="1.60" fill="#333" />
<rect x="413.00" y="407.50" width="1.00" height="1.60" fill="#333" />
<rect x="422.00" y="407.50" width="1.00" height="1.60" fill="#333" />
<rect x="434.50" y="407.50" width="1.00" height="1.60" fill="#333" />
<rect x="446.50" y="407.50" width="1.00" height="1.60" fill="#333" />
<rect x="450.00" y="407.50" width="1.00" height="1.60" fill="#333" />
<rect x="457.30" y="407.50" width="1.00" height="1.60" fill="#333" />
<rect x="464.00" y="407.50" width="1.00" height="1.60" fill="#333" />
<rect x="467.00" y="407.50" width="1.00" height="1.60" fill="#333" />
<rect x="477.00" y="407.50" width="1.00" height="1.60" fill="#333" />
<text x="357.50" y="418.50" font-size="4.9" font-weight="normal" text-anchor="middle" fill="#444" >-10</text>
<text x="364.00" y="414.30" font-size="4.9" font-weight="normal" text-anchor="middle" fill="#444" >3</text>
<text x="379.70" y="418.50" font-size="4.9" font-weight="normal" text-anchor="middle" fill="#444" >0</text>
<text x="403.30" y="418.50" font-size="4.9" font-weight="normal" text-anchor="middle" fill="#444" >10</text>
<text x="441.10" y="418.50" font-size="4.9" font-weight="normal" text-anchor="middle" fill="#444" >10</text>
<text x="473.70" y="418.50" font-size="4.9" font-weight="normal" text-anchor="middle" fill="#444" >10</text>
<text x="408.00" y="414.50" font-size="4.9" font-weight="normal" text-anchor="middle" fill="#444" >3</text>
<text x="446.00" y="414.50" font-size="4.9" font-weight="normal" text-anchor="middle" fill="#444" >4</text>
<text x="478.80" y="414.50" font-size="4.9" font-weight="normal" text-anchor="middle" fill="#444" >5</text>
<text transform="translate(332.3,346.8) rotate(-90)" font-size="8.9" font-weight="bold" text-anchor="middle" fill="#111">Normalized to Mode</text>
<text x="414.20" y="431.40" font-size="8.6" font-weight="bold" text-anchor="middle" fill="#111" >HA-647</text>
<rect x="375.20" y="437.20" width="5.60" height="5.40" fill="#e7e7ea" />
<rect x="375.20" y="444.90" width="5.60" height="5.60" fill="#e2ebd3" />
<text x="383.00" y="443.10" font-size="7.5" font-weight="normal" text-anchor="start" fill="#333" >Empty Vector</text>
<text x="383.00" y="450.60" font-size="7.5" font-weight="normal" text-anchor="start" fill="#333" >PPE18-HA</text>
<text x="543.60" y="282.90" font-size="15" font-weight="bold" text-anchor="start" fill="#111" transform="translate(0,-22.6) scale(1,1.08)">(E)</text>
<line x1="618.50" y1="280.50" x2="618.50" y2="406.30" stroke="#151515" stroke-width="1.8" />
<line x1="617.60" y1="405.40" x2="701.30" y2="405.40" stroke="#151515" stroke-width="1.8" />
<line x1="614.00" y1="405.40" x2="618.50" y2="405.40" stroke="#151515" stroke-width="1.8" />
<text x="611.90" y="408.80" font-size="9.2" font-weight="bold" text-anchor="end" fill="#111" >1</text>
<line x1="614.00" y1="363.75" x2="618.50" y2="363.75" stroke="#151515" stroke-width="1.8" />
<text x="611.90" y="367.15" font-size="9.2" font-weight="bold" text-anchor="end" fill="#111" >10</text>
<line x1="614.00" y1="322.10" x2="618.50" y2="322.10" stroke="#151515" stroke-width="1.8" />
<text x="611.90" y="325.50" font-size="9.2" font-weight="bold" text-anchor="end" fill="#111" >100</text>
<line x1="614.00" y1="280.45" x2="618.50" y2="280.45" stroke="#151515" stroke-width="1.8" />
<text x="611.90" y="283.85" font-size="9.2" font-weight="bold" text-anchor="end" fill="#111" >1000</text>
<line x1="642.30" y1="405.40" x2="642.30" y2="410.00" stroke="#151515" stroke-width="1.8" />
<line x1="677.80" y1="405.40" x2="677.80" y2="410.00" stroke="#151515" stroke-width="1.8" />
<rect x="667.0" y="341.0" width="22.0" height="64.4" fill="#6abd48" stroke="#111" stroke-width="1.7"/>
<line x1="677.80" y1="326.80" x2="677.80" y2="340.20" stroke="#555" stroke-width="1.2" />
<line x1="672.20" y1="326.80" x2="683.70" y2="326.80" stroke="#555" stroke-width="1.4" />
<polyline points="642.5,398.5 642.5,300.5 677.8,300.5 677.8,308.2" fill="none" stroke="#111" stroke-width="1.6"/>
<line x1="660.30" y1="288.30" x2="660.30" y2="295.10" stroke="#111" stroke-width="1.45" stroke-linecap="round"/>
<line x1="657.36" y1="290.00" x2="663.24" y2="293.40" stroke="#111" stroke-width="1.45" stroke-linecap="round"/>
<line x1="657.36" y1="293.40" x2="663.24" y2="290.00" stroke="#111" stroke-width="1.45" stroke-linecap="round"/>
<circle cx="632.60" cy="405.40" r="1.95" fill="#fff" stroke="#111" stroke-width="1.1" />
<circle cx="635.55" cy="405.40" r="1.95" fill="#fff" stroke="#111" stroke-width="1.1" />
<circle cx="638.50" cy="405.40" r="1.95" fill="#fff" stroke="#111" stroke-width="1.1" />
<circle cx="641.45" cy="405.40" r="1.95" fill="#fff" stroke="#111" stroke-width="1.1" />
<circle cx="644.40" cy="405.40" r="1.95" fill="#fff" stroke="#111" stroke-width="1.1" />
<circle cx="647.35" cy="405.40" r="1.95" fill="#fff" stroke="#111" stroke-width="1.1" />
<circle cx="650.30" cy="405.40" r="1.95" fill="#fff" stroke="#111" stroke-width="1.1" />
<circle cx="653.25" cy="405.40" r="1.95" fill="#fff" stroke="#111" stroke-width="1.1" />
<circle cx="677.70" cy="315.50" r="2.1" fill="none" stroke="#6ab743" stroke-width="1.2" />
<circle cx="672.60" cy="337.70" r="2.1" fill="none" stroke="#6ab743" stroke-width="1.2" />
<circle cx="677.80" cy="340.70" r="1.6" fill="#f2f8ee" stroke="#8fcf6f" stroke-width="0.6" />
<circle cx="667.40" cy="346.30" r="1.6" fill="#f2f8ee" stroke="#8fcf6f" stroke-width="0.6" />
<circle cx="672.60" cy="348.70" r="1.6" fill="#f2f8ee" stroke="#8fcf6f" stroke-width="0.6" />
<circle cx="677.80" cy="346.60" r="1.6" fill="#f2f8ee" stroke="#8fcf6f" stroke-width="0.6" />
<circle cx="682.90" cy="348.70" r="1.6" fill="#f2f8ee" stroke="#8fcf6f" stroke-width="0.6" />
<circle cx="687.70" cy="346.60" r="1.6" fill="#f2f8ee" stroke="#8fcf6f" stroke-width="0.6" />
<circle cx="677.80" cy="355.40" r="1.6" fill="#f2f8ee" stroke="#8fcf6f" stroke-width="0.6" />
<circle cx="677.80" cy="380.60" r="1.6" fill="#f2f8ee" stroke="#8fcf6f" stroke-width="0.6" />
<text transform="translate(576.2,351.2) rotate(-90)" font-size="9.1" font-weight="bold" text-anchor="middle" fill="#111">gMFI Fold Increase</text>
<text transform="translate(587.4,351.2) rotate(-90)" font-size="9.1" font-weight="bold" text-anchor="middle" fill="#111">relative to EV</text>
<text transform="translate(645.4,419.2) rotate(-45)" font-size="9.6" font-weight="bold" text-anchor="end" fill="#111">Empty Vector</text>
<text transform="translate(680.6,419.6) rotate(-45)" font-size="9.6" font-weight="bold" text-anchor="end" fill="#111">PPE18</text>
<text x="0.40" y="482.90" font-size="15" font-weight="bold" text-anchor="start" fill="#111" >(F)</text>
<rect x="115.75" y="594.00" width="14.40" height="3.20" fill="#959595" />
<rect x="137.70" y="595.50" width="14.40" height="1.70" fill="#959595" />
<rect x="159.65" y="544.40" width="14.40" height="52.80" fill="#959595" />
<rect x="181.60" y="597.20" width="14.40" height="4.30" fill="#959595" />
<rect x="203.55" y="597.20" width="14.40" height="2.00" fill="#959595" />
<rect x="247.45" y="565.80" width="14.40" height="31.40" fill="#959595" />
<rect x="269.40" y="544.20" width="14.40" height="53.00" fill="#959595" />
<rect x="225.50" y="597.20" width="14.40" height="1.30" fill="#959595" />
<rect x="93.80" y="596.50" width="14.40" height="0.70" fill="#959595" />
<line x1="122.95" y1="597.00" x2="122.95" y2="601.50" stroke="#222" stroke-width="1.2" />
<line x1="118.75" y1="601.50" x2="127.15" y2="601.50" stroke="#222" stroke-width="1.4" />
<line x1="166.85" y1="545.00" x2="166.85" y2="553.60" stroke="#222" stroke-width="1.2" />
<line x1="162.65" y1="553.60" x2="171.05" y2="553.60" stroke="#222" stroke-width="1.4" />
<line x1="188.80" y1="601.00" x2="188.80" y2="612.60" stroke="#222" stroke-width="1.2" />
<line x1="184.60" y1="612.60" x2="193.00" y2="612.60" stroke="#222" stroke-width="1.4" />
<line x1="254.65" y1="562.00" x2="254.65" y2="577.80" stroke="#222" stroke-width="1.2" />
<line x1="250.45" y1="577.80" x2="258.85" y2="577.80" stroke="#222" stroke-width="1.4" />
<line x1="254.65" y1="565.00" x2="254.65" y2="559.70" stroke="#222" stroke-width="1.2" />
<line x1="250.45" y1="559.70" x2="258.85" y2="559.70" stroke="#222" stroke-width="1.4" />
<line x1="276.60" y1="548.00" x2="276.60" y2="607.60" stroke="#222" stroke-width="1.2" />
<line x1="272.40" y1="607.60" x2="280.80" y2="607.60" stroke="#222" stroke-width="1.4" />
<line x1="86.20" y1="597.20" x2="290.90" y2="597.20" stroke="#151515" stroke-width="1.8" />
<line x1="86.20" y1="499.30" x2="86.20" y2="630.90" stroke="#151515" stroke-width="1.8" />
<line x1="85.30" y1="630.00" x2="290.90" y2="630.00" stroke="#151515" stroke-width="1.8" />
<line x1="81.50" y1="629.85" x2="86.20" y2="629.85" stroke="#151515" stroke-width="1.8" />
<text x="78.80" y="633.25" font-size="9.5" font-weight="bold" text-anchor="end" fill="#111" >0.1</text>
<line x1="81.50" y1="597.20" x2="86.20" y2="597.20" stroke="#151515" stroke-width="1.8" />
<text x="78.80" y="600.60" font-size="9.5" font-weight="bold" text-anchor="end" fill="#111" >1</text>
<line x1="81.50" y1="564.55" x2="86.20" y2="564.55" stroke="#151515" stroke-width="1.8" />
<text x="78.80" y="567.95" font-size="9.5" font-weight="bold" text-anchor="end" fill="#111" >10</text>
<line x1="81.50" y1="531.90" x2="86.20" y2="531.90" stroke="#151515" stroke-width="1.8" />
<text x="78.80" y="535.30" font-size="9.5" font-weight="bold" text-anchor="end" fill="#111" >100</text>
<line x1="81.50" y1="499.25" x2="86.20" y2="499.25" stroke="#151515" stroke-width="1.8" />
<text x="78.80" y="502.65" font-size="9.5" font-weight="bold" text-anchor="end" fill="#111" >1000</text>
<line x1="101.00" y1="630.00" x2="101.00" y2="635.40" stroke="#151515" stroke-width="1.8" />
<text transform="translate(104.00,644.6) rotate(-45)" font-size="9.6" font-weight="bold" text-anchor="end" fill="#111">Empty Vector</text>
<line x1="122.95" y1="630.00" x2="122.95" y2="635.40" stroke="#151515" stroke-width="1.8" />
<text transform="translate(125.95,644.6) rotate(-45)" font-size="9.6" font-weight="bold" text-anchor="end" fill="#111">PPE20</text>
<line x1="144.90" y1="630.00" x2="144.90" y2="635.40" stroke="#151515" stroke-width="1.8" />
<text transform="translate(147.90,644.6) rotate(-45)" font-size="9.6" font-weight="bold" text-anchor="end" fill="#111">recA</text>
<line x1="166.85" y1="630.00" x2="166.85" y2="635.40" stroke="#151515" stroke-width="1.8" />
<text transform="translate(169.85,644.6) rotate(-45)" font-size="9.6" font-weight="bold" text-anchor="end" fill="#111">PPE38</text>
<line x1="188.80" y1="630.00" x2="188.80" y2="635.40" stroke="#151515" stroke-width="1.8" />
<text transform="translate(191.80,644.6) rotate(-45)" font-size="9.6" font-weight="bold" text-anchor="end" fill="#111">secE1</text>
<line x1="210.75" y1="630.00" x2="210.75" y2="635.40" stroke="#151515" stroke-width="1.8" />
<text transform="translate(213.75,644.6) rotate(-45)" font-size="9.6" font-weight="bold" text-anchor="end" fill="#111">hupB</text>
<line x1="232.70" y1="630.00" x2="232.70" y2="635.40" stroke="#151515" stroke-width="1.8" />
<text transform="translate(235.70,644.6) rotate(-45)" font-size="9.6" font-weight="bold" text-anchor="end" fill="#111">hns</text>
<line x1="254.65" y1="630.00" x2="254.65" y2="635.40" stroke="#151515" stroke-width="1.8" />
<text transform="translate(257.65,644.6) rotate(-45)" font-size="9.6" font-weight="bold" text-anchor="end" fill="#111">PE23</text>
<line x1="276.60" y1="630.00" x2="276.60" y2="635.40" stroke="#151515" stroke-width="1.8" />
<text transform="translate(279.60,644.6) rotate(-45)" font-size="9.6" font-weight="bold" text-anchor="end" fill="#111">PPE18</text>
<circle cx="96.00" cy="597.20" r="2.4" fill="#fff" stroke="#808080" stroke-width="1.45" />
<circle cx="98.60" cy="597.20" r="2.4" fill="#fff" stroke="#808080" stroke-width="1.45" />
<circle cx="101.20" cy="597.20" r="2.4" fill="#fff" stroke="#808080" stroke-width="1.45" />
<circle cx="103.80" cy="597.20" r="2.4" fill="#fff" stroke="#808080" stroke-width="1.45" />
<circle cx="106.30" cy="597.20" r="2.4" fill="#fff" stroke="#808080" stroke-width="1.45" />
<circle cx="122.90" cy="587.90" r="2.4" fill="#fff" stroke="#808080" stroke-width="1.45" />
<circle cx="127.80" cy="595.20" r="2.4" fill="#fff" stroke="#808080" stroke-width="1.45" />
<circle cx="118.30" cy="598.90" r="2.4" fill="#fff" stroke="#808080" stroke-width="1.45" />
<circle cx="140.30" cy="593.90" r="2.4" fill="#fff" stroke="#808080" stroke-width="1.45" />
<circle cx="143.60" cy="591.20" r="2.4" fill="#fff" stroke="#808080" stroke-width="1.45" />
<circle cx="147.60" cy="593.60" r="2.4" fill="#fff" stroke="#808080" stroke-width="1.45" />
<circle cx="150.20" cy="592.80" r="2.4" fill="#fff" stroke="#808080" stroke-width="1.45" />
<circle cx="162.30" cy="544.00" r="2.4" fill="#fff" stroke="#808080" stroke-width="1.45" />
<circle cx="167.10" cy="542.70" r="2.4" fill="#fff" stroke="#808080" stroke-width="1.45" />
<circle cx="171.90" cy="546.60" r="2.4" fill="#fff" stroke="#808080" stroke-width="1.45" />
<circle cx="167.10" cy="549.90" r="2.4" fill="#fff" stroke="#808080" stroke-width="1.45" />
<circle cx="166.70" cy="557.90" r="2.4" fill="#fff" stroke="#808080" stroke-width="1.45" />
<circle cx="184.20" cy="598.20" r="2.4" fill="#fff" stroke="#808080" stroke-width="1.45" />
<circle cx="193.50" cy="596.00" r="2.4" fill="#fff" stroke="#808080" stroke-width="1.45" />
<circle cx="188.90" cy="604.80" r="2.4" fill="#fff" stroke="#808080" stroke-width="1.45" />
<circle cx="188.90" cy="617.00" r="2.4" fill="#fff" stroke="#808080" stroke-width="1.45" />
<circle cx="205.50" cy="596.10" r="2.4" fill="#fff" stroke="#808080" stroke-width="1.45" />
<circle cx="210.70" cy="598.90" r="2.4" fill="#fff" stroke="#808080" stroke-width="1.45" />
<circle cx="215.10" cy="598.90" r="2.4" fill="#fff" stroke="#808080" stroke-width="1.45" />
<circle cx="210.70" cy="605.30" r="2.4" fill="#fff" stroke="#808080" stroke-width="1.45" />
<circle cx="227.60" cy="594.30" r="2.4" fill="#fff" stroke="#808080" stroke-width="1.45" />
<circle cx="227.60" cy="600.70" r="2.4" fill="#fff" stroke="#808080" stroke-width="1.45" />
<circle cx="232.70" cy="597.00" r="2.4" fill="#fff" stroke="#808080" stroke-width="1.45" />
<circle cx="236.70" cy="597.00" r="2.4" fill="#fff" stroke="#808080" stroke-width="1.45" />
<circle cx="250.10" cy="561.90" r="2.4" fill="#fff" stroke="#808080" stroke-width="1.45" />
<circle cx="258.80" cy="560.10" r="2.4" fill="#fff" stroke="#808080" stroke-width="1.45" />
<circle cx="254.50" cy="567.70" r="2.4" fill="#fff" stroke="#808080" stroke-width="1.45" />
<circle cx="254.50" cy="585.20" r="2.4" fill="#fff" stroke="#808080" stroke-width="1.45" />
<circle cx="276.50" cy="525.80" r="2.4" fill="#fff" stroke="#808080" stroke-width="1.45" />
<circle cx="276.50" cy="535.40" r="2.4" fill="#fff" stroke="#808080" stroke-width="1.45" />
<circle cx="276.50" cy="543.40" r="2.4" fill="#fff" stroke="#808080" stroke-width="1.45" />
<circle cx="273.60" cy="546.90" r="2.4" fill="#fff" stroke="#808080" stroke-width="1.45" />
<circle cx="279.20" cy="546.90" r="2.4" fill="#fff" stroke="#808080" stroke-width="1.45" />
<circle cx="271.20" cy="549.80" r="2.4" fill="#fff" stroke="#808080" stroke-width="1.45" />
<circle cx="276.50" cy="550.60" r="2.4" fill="#fff" stroke="#808080" stroke-width="1.45" />
<circle cx="282.40" cy="550.10" r="2.4" fill="#fff" stroke="#808080" stroke-width="1.45" />
<circle cx="273.60" cy="553.00" r="2.4" fill="#fff" stroke="#808080" stroke-width="1.45" />
<circle cx="279.20" cy="553.00" r="2.4" fill="#fff" stroke="#808080" stroke-width="1.45" />
<circle cx="276.50" cy="557.80" r="2.4" fill="#fff" stroke="#808080" stroke-width="1.45" />
<circle cx="276.50" cy="578.50" r="2.4" fill="#fff" stroke="#808080" stroke-width="1.45" />
<text transform="translate(38.0,564.2) rotate(-90)" font-size="10.4" font-weight="bold" text-anchor="middle" fill="#111">gMFI Fold Increase</text>
<text transform="translate(50.5,564.6) rotate(-90)" font-size="10.4" font-weight="bold" text-anchor="middle" fill="#111">relative to EV</text>
<line x1="164.40" y1="530.10" x2="164.40" y2="534.90" stroke="#222" stroke-width="1.05" stroke-linecap="round"/>
<line x1="162.32" y1="531.30" x2="166.48" y2="533.70" stroke="#222" stroke-width="1.05" stroke-linecap="round"/>
<line x1="162.32" y1="533.70" x2="166.48" y2="531.30" stroke="#222" stroke-width="1.05" stroke-linecap="round"/>
<line x1="170.60" y1="530.10" x2="170.60" y2="534.90" stroke="#222" stroke-width="1.05" stroke-linecap="round"/>
<line x1="168.52" y1="531.30" x2="172.68" y2="533.70" stroke="#222" stroke-width="1.05" stroke-linecap="round"/>
<line x1="168.52" y1="533.70" x2="172.68" y2="531.30" stroke="#222" stroke-width="1.05" stroke-linecap="round"/>
<line x1="254.30" y1="548.10" x2="254.30" y2="552.90" stroke="#222" stroke-width="1.05" stroke-linecap="round"/>
<line x1="252.22" y1="549.30" x2="256.38" y2="551.70" stroke="#222" stroke-width="1.05" stroke-linecap="round"/>
<line x1="252.22" y1="551.70" x2="256.38" y2="549.30" stroke="#222" stroke-width="1.05" stroke-linecap="round"/>
<line x1="274.10" y1="513.80" x2="274.10" y2="518.60" stroke="#222" stroke-width="1.05" stroke-linecap="round"/>
<line x1="272.02" y1="515.00" x2="276.18" y2="517.40" stroke="#222" stroke-width="1.05" stroke-linecap="round"/>
<line x1="272.02" y1="517.40" x2="276.18" y2="515.00" stroke="#222" stroke-width="1.05" stroke-linecap="round"/>
<line x1="280.30" y1="513.80" x2="280.30" y2="518.60" stroke="#222" stroke-width="1.05" stroke-linecap="round"/>
<line x1="278.22" y1="515.00" x2="282.38" y2="517.40" stroke="#222" stroke-width="1.05" stroke-linecap="round"/>
<line x1="278.22" y1="517.40" x2="282.38" y2="515.00" stroke="#222" stroke-width="1.05" stroke-linecap="round"/>
</svg></body></html>
